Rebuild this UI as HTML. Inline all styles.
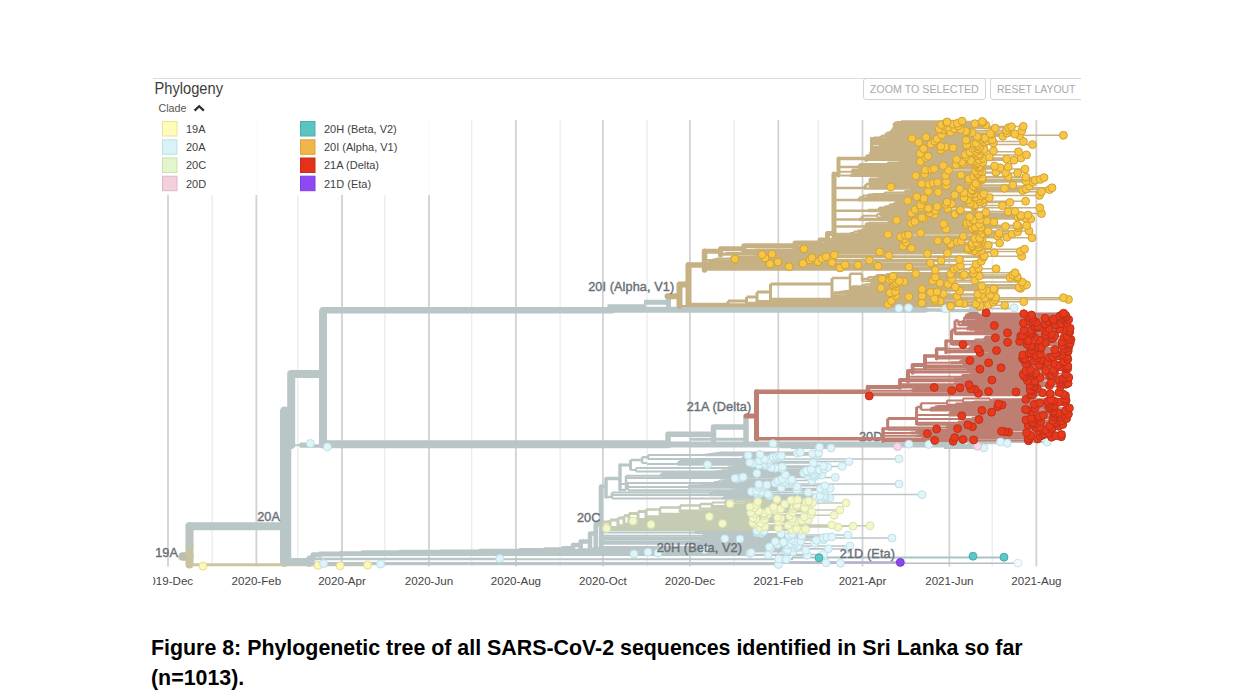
<!DOCTYPE html>
<html lang="en">
<head>
<meta charset="utf-8">
<title>Figure 8: Phylogenetic tree of all SARS-CoV-2 sequences identified in Sri Lanka</title>
<style>
html,body{margin:0;padding:0;background:#fff;}
body{width:1237px;height:700px;position:relative;overflow:hidden;font-family:"Liberation Sans",sans-serif;}
#fig{position:absolute;left:0;top:0;width:1237px;height:700px;display:block;}
#cap{position:absolute;left:150.6px;top:634px;margin:0;width:1100px;font-weight:bold;font-size:21.4px;line-height:29.8px;color:#000;
 transform-origin:0 0;transform:scaleX(0.999);white-space:nowrap;letter-spacing:0;}
</style>
</head>
<body>
<svg id="fig" width="1237" height="700" viewBox="0 0 1237 700" font-family="'Liberation Sans', sans-serif">
<defs><clipPath id="shot"><rect x="153" y="70" width="928" height="530"/></clipPath></defs>
<g clip-path="url(#shot)">
<path d="M153 78.5 H1081" stroke="#dcdcdc" stroke-width="1"/>
<path d="M212.2 120 V566.5 M297.8 120 V566.5 M384.8 120 V566.5 M471.7 120 V566.5 M560.1 120 V566.5 M647.1 120 V566.5 M734.1 120 V566.5 M818.3 120 V566.5 M905.2 120 V566.5 M992.2 120 V566.5" stroke="#ececec" stroke-width="1.3" fill="none"/>
<path d="M168.0 120 V566.5 M256.4 120 V566.5 M342.0 120 V566.5 M429.0 120 V566.5 M515.9 120 V566.5 M602.9 120 V566.5 M689.9 120 V566.5 M778.3 120 V566.5 M862.5 120 V566.5 M949.4 120 V566.5 M1036.4 120 V566.5" stroke="#d2d2d2" stroke-width="1.8" fill="none"/>
<g>
<path d="M284.5 411.0V562.5" stroke="#b9c6c8" stroke-width="9.0" stroke-linecap="round" fill="none"/>
<path d="M182.5 556.5H189.5" stroke="#bcbfad" stroke-width="8.5" stroke-linecap="round" fill="none"/>
<path d="M189.5 545.0V564.5" stroke="#c6c3a0" stroke-width="8.0" stroke-linecap="round" fill="none"/>
<path d="M189.5 526.3V545.0" stroke="#bcc5bd" stroke-width="8.0" stroke-linecap="round" fill="none"/>
<path d="M189.5 526.3H284.5M284.5 411.0H291.0M291.2 374.0V445.0M291.2 374.0H323.0M323.0 311.5V444.5M323.0 444.2H668.0" stroke="#b9c6c8" stroke-width="8.0" stroke-linecap="round" fill="none"/>
<path d="M323.0 310.2H612.0" stroke="#b9c6c8" stroke-width="6.5" stroke-linecap="round" fill="none"/>
<path d="M612.0 309.8H925.0M668.0 444.6H960.0" stroke="#b9c6c8" stroke-width="6.0" stroke-linecap="round" fill="none"/>
<path d="M668.0 434.3V444.0M668.0 434.3H713.5M713.5 427.0V442.0M713.5 427.0H746.0M746.0 416.3V442.0" stroke="#b9c6c8" stroke-width="5.5" stroke-linecap="round" fill="none"/>
<path d="M644.0 302.3H669.0M668.5 297.0V309.0" stroke="#b9c6c8" stroke-width="5.0" stroke-linecap="butt" fill="none"/>
<path d="M284.5 560.3H309.0" stroke="#b9c6c8" stroke-width="4.5" stroke-linecap="round" fill="none"/>
<path d="M607.5 306.0H646.0" stroke="#b9c6c8" stroke-width="3.5" stroke-linecap="butt" fill="none"/>
<path d="M189.5 564.8H367.0" stroke="#cbc69f" stroke-width="3.0" stroke-linecap="butt" fill="none"/>
<path d="M690.0 439.3H745.0" stroke="#b9c6c8" stroke-width="3.0" stroke-linecap="butt" fill="none"/>
<path d="M290.0 445.0V561.5" stroke="#b9c6c8" stroke-width="2.5" stroke-linecap="butt" fill="none"/>
<path d="M291.2 445.2H327.0M300.0 443.4H310.4M300.0 443.4V446.7M300.0 446.7H327.4" stroke="#b9c6c8" stroke-width="2.0" stroke-linecap="butt" fill="none"/>
</g>
<g>
<path d="M286.0 562.7H309.0M309.0 557.9V564.5M309.0 557.9H313.0M313.0 554.7V559.4M313.0 554.7H320.0M320.0 553.9V555.3M320.0 553.9H341.0M341.0 553.4V554.4" stroke="#b9c6c8" stroke-width="5.0" stroke-linecap="round" fill="none"/>
<path d="M341.0 553.4H362.5M362.5 552.6V554.0M362.5 552.6H400.0M400.0 552.1V553.1M400.0 552.1H440.0M440.0 551.7V552.6M440.0 551.7H480.0M480.0 551.1V552.2M480.0 551.1H520.0M520.0 550.2V551.8M520.0 550.2H545.0M545.0 549.6V550.9M545.0 549.6H563.0M563.0 548.3V550.4M563.0 548.3H573.0M573.0 545.0V549.6M573.0 545.0H580.7M580.7 541.4V549.1M580.7 541.4H590.0M590.0 533.6V548.7M590.0 533.6H595.7M595.7 524.3V547.8M595.7 524.3H601.0M601.0 486.4V546.9" stroke="#b9c6c8" stroke-width="4.5" stroke-linecap="round" fill="none"/>
<path d="M601.0 486.4H606.0M606.0 478.6V497.0M606.0 478.6H620.0M620.0 465.0V490.0" stroke="#b9c6c8" stroke-width="3.5" stroke-linecap="round" fill="none"/>
<path d="M601.0 525.0H602.5M602.5 522.0V530.2M602.5 522.0H610.0M610.0 520.0V528.0M610.0 520.0H618.0M618.0 518.0V526.2M618.0 518.0H624.0M624.0 515.7V524.5M624.0 515.7H629.0M629.0 513.5V522.7M629.0 513.5H638.0M638.0 511.4V520.5M638.0 511.4H646.0M646.0 509.5V518.3" stroke="#c4ccb4" stroke-width="3.0" stroke-linecap="butt" fill="none"/>
<path d="M620.0 465.0H630.5M630.5 460.0V470.0" stroke="#b9c6c8" stroke-width="3.0" stroke-linecap="butt" fill="none"/>
<path d="M646.0 509.5H660.0M660.0 507.5V515.7M660.0 507.5H680.0M680.0 505.5V512.6M680.0 505.5H700.0M700.0 504.0V509.1M700.0 504.0H712.0M712.0 502.5V507.8" stroke="#c4ccb4" stroke-width="2.5" stroke-linecap="butt" fill="none"/>
<path d="M606.0 497.0H612.0M612.0 492.5V498.4M620.0 490.0H626.0M626.0 475.8V490.0M630.5 460.0H642.0M642.0 457.3V463.0M642.0 457.3H648.0M648.0 455.0V459.0" stroke="#b9c6c8" stroke-width="2.5" stroke-linecap="butt" fill="none"/>
<path d="M783.0 562.6H900.0" stroke="#b5a8cf" stroke-width="2.5" stroke-linecap="butt" fill="none"/>
<path d="M601.0 546.9H692.7M692.7 546.5V547.4M692.7 546.5H696.3M696.3 546.0V546.9M696.3 546.0H697.1M697.1 545.5V546.5M697.1 545.5H702.8M702.8 544.9V546.0M601.0 543.8H704.3M704.3 543.2V544.3M601.0 541.9H738.7M738.7 541.2V542.5M601.0 535.8H702.6M702.6 535.1V536.4M702.6 535.1H706.7M706.7 534.6V535.7M706.7 534.6H710.2M710.2 534.2V535.0M601.0 532.5H694.9M694.9 531.4V533.3M694.9 531.4H703.1M703.1 530.9V532.0M612.0 498.4H722.1M722.1 497.9V499.0M722.1 497.9H723.4M723.4 497.2V498.5M723.4 497.2H724.4M724.4 496.7V497.6M724.4 496.7H726.9M726.9 496.1V497.2M612.0 495.0H709.2M709.2 494.5V495.4M709.2 494.5H714.9M714.9 493.9V495.0M612.0 492.5H712.6M712.6 491.9V493.0M712.6 491.9H714.5M714.5 491.5V492.4M620.0 484.0H628.0M628.0 484.0V490.2M628.0 490.2H732.2M732.2 489.7V490.6M732.2 489.7H736.2M736.2 489.3V490.2M736.2 489.3H741.7M741.7 488.8V489.7M628.0 487.1H688.0M688.0 486.0V488.0M688.0 486.0H689.5M689.5 485.2V486.6M689.5 485.2H700.4M700.4 484.4V485.8M626.0 482.9H714.1M714.1 482.0V483.6M714.1 482.0H717.9M717.9 481.2V482.7M717.9 481.2H721.8M721.8 480.5V481.8M721.8 480.5H725.8M725.8 480.0V480.9M725.8 480.0H727.2M727.2 479.6V480.5M626.0 478.1H719.5M719.5 477.4V478.7M626.0 475.8H659.9M659.9 474.9V476.5M659.9 474.9H660.8M660.8 473.9V475.6M660.8 473.9H661.7M661.7 473.2V474.5M661.7 473.2H669.2M669.2 472.8V473.7M630.5 470.0H636.0M636.0 468.1V471.6M636.0 471.6H716.2M716.2 471.1V472.1M716.2 471.1H721.2M721.2 470.2V471.7M721.2 470.2H727.8M727.8 469.7V470.8M727.8 469.7H728.9M728.9 469.3V470.1M636.0 468.1H727.8M727.8 467.5V468.6M727.8 467.5H728.7M728.7 466.7V468.2M728.7 466.7H732.9M732.9 466.2V467.3M732.9 466.2H737.6M737.6 465.7V466.6M642.0 463.0H647.0M647.0 463.0V464.0M647.0 464.0H677.7M677.7 462.4V465.1M677.7 462.4H679.0M679.0 461.1V463.3M648.0 459.0H742.8M742.8 457.0V460.2M742.8 458.8H743.1M743.1 458.3V459.4M742.8 457.0H744.5M744.5 456.3V457.6M648.0 455.0H705.0M705.0 454.5V455.4M705.0 454.5H708.5M708.5 454.1V455.0M708.5 454.1H712.5M712.5 453.6V454.5M712.5 453.6H716.1M716.1 453.1V454.1M716.1 453.1H718.7M718.7 452.5V453.6" stroke="#b9c6c8" stroke-width="2.0" stroke-linecap="butt" fill="none"/>
<path d="M660.0 513.8H738.3M738.3 513.3V514.4M680.0 510.4H719.8M719.8 510.0V510.8M712.0 505.9H730.9M730.9 505.3V506.4M712.0 502.5H725.0M725.0 501.0V504.7M725.0 501.0H735.0M735.0 500.3V502.6M735.0 502.6H745.0M745.0 502.0V503.1M745.0 502.0H745.3M745.3 501.4V502.5M735.0 500.3H740.3M740.3 499.8V500.7" stroke="#c4ccb4" stroke-width="2.0" stroke-linecap="butt" fill="none"/>
<path d="M792.0 557.4H1004.0M792.0 557.4V560.0" stroke="#a9c4c4" stroke-width="2.0" stroke-linecap="butt" fill="none"/>
<path d="M309.0 564.5H778.5M309.0 564.1H380.6M309.0 563.6H323.6M309.0 563.2H840.4M309.0 562.7H826.1M313.0 559.4H786.4M313.0 559.0H778.7M313.0 558.5H499.7M320.0 555.3H807.3M320.0 554.8H768.1M341.0 554.4H823.6M362.5 554.0H634.0M362.5 553.5H749.9M400.0 553.1H658.0M440.0 552.6H751.2M480.0 552.2H648.0M520.0 551.8H792.8M520.0 551.3H785.9M545.0 550.9H787.2M563.0 550.4H805.7M563.0 550.0H787.4M573.0 549.6H704.6M580.7 549.1H847.4M590.0 548.7H828.4M590.0 548.2H770.6M595.7 547.8H797.1M692.7 547.4H794.6M696.3 546.9H769.4M697.1 546.5H797.2M702.8 546.0H849.9M702.8 545.6H797.9M702.8 544.9H703.3M703.3 544.7V545.2M703.3 545.2H787.2M703.3 544.7H793.5M704.3 544.3H777.4M704.3 543.8H791.0M704.3 543.2H705.6M705.6 543.0V543.4M705.6 543.4H814.6M705.6 543.0H783.7M738.7 542.5H795.1M738.7 542.1H783.5M738.7 541.2H740.7M740.7 540.8V541.6M740.7 541.6H775.3M740.7 541.2H800.6M740.7 540.8H793.9M601.0 539.9H700.2M700.2 539.4V540.3M700.2 540.3H816.4M700.2 539.9H823.5M700.2 539.4H791.4M601.0 538.6H675.8M675.8 538.1V539.0M675.8 539.0H739.9M675.8 538.6H724.8M675.8 538.1H892.0M601.0 537.2H710.3M710.3 536.8V537.7M710.3 537.7H823.3M710.3 537.2H826.8M710.3 536.8H831.9M702.6 536.4H789.0M706.7 535.7H712.0M712.0 535.5V535.9M712.0 535.9H801.7M712.0 535.5H789.2M710.2 535.0H848.0M710.2 534.2H712.1M712.1 533.7V534.6M712.1 534.6H792.8M712.1 534.2H792.1M712.1 533.7H781.1M694.9 533.3H761.2M694.9 532.8H757.1M694.9 532.4H762.2M703.1 532.0H757.7M703.1 531.5H761.2M703.1 530.9H703.8M703.8 530.6V531.1M703.8 531.1H764.0M703.8 530.6H756.8M722.1 499.0H820.9M723.4 498.5H827.6M723.4 498.1H829.8M724.4 497.6H825.4M726.9 497.2H816.0M726.9 496.8H823.5M726.9 496.1H734.6M734.6 495.9V496.3M734.6 496.3H823.6M734.6 495.9H820.3M709.2 495.4H769.3M714.9 495.0H757.7M714.9 494.6H922.0M714.9 493.9H716.7M716.7 493.7V494.1M716.7 494.1H767.9M716.7 493.7H759.2M712.6 493.0H713.3M713.3 492.8V493.2M713.3 493.2H757.1M713.3 492.8H760.6M714.5 492.4H808.3M714.5 491.5H716.0M716.0 491.0V491.9M716.0 491.9H760.8M716.0 491.5H751.4M716.0 491.0H756.7M732.2 490.6H824.5M736.2 490.2H797.7M741.7 489.7H796.8M741.7 488.8H743.5M743.5 488.4V489.3M743.5 489.3H823.1M743.5 488.8H820.3M743.5 488.4H830.2M688.0 488.0H781.3M688.0 487.5H759.0M688.0 487.1H764.5M689.5 486.6H796.9M689.5 486.2H765.6M700.4 485.8H824.9M700.4 485.3H759.6M700.4 484.4H702.2M702.2 484.0V484.9M702.2 484.9H766.9M702.2 484.4H758.7M702.2 484.0H899.0M714.1 483.6H787.1M714.1 483.1H775.3M717.9 482.7H791.3M717.9 482.2H782.8M721.8 481.8H785.3M721.8 481.4H791.0M725.8 480.9H777.9M727.2 480.5H811.8M727.2 479.6H732.4M732.4 479.2V480.0M732.4 480.0H788.4M732.4 479.6H791.8M732.4 479.2H782.2M719.5 478.7H736.7M719.5 478.3H735.0M719.5 477.4H720.9M720.9 477.0V477.8M720.9 477.8H741.7M720.9 477.4H835.3M720.9 477.0H743.2M659.9 476.5H814.8M659.9 476.1H808.1M660.8 475.6H813.4M660.8 475.2H821.6M661.7 474.5H664.4M664.4 474.3V474.8M664.4 474.8H785.4M664.4 474.3H816.9M669.2 473.7H676.4M676.4 473.4V473.9M676.4 473.9H814.3M676.4 473.4H756.9M669.2 472.8H670.9M670.9 472.6V473.0M670.9 473.0H803.6M670.9 472.6H807.5M716.2 472.1H809.7M721.2 471.7H816.4M721.2 471.2H808.4M727.8 470.8H806.4M728.9 470.1H730.6M730.6 469.9V470.4M730.6 470.4H818.1M730.6 469.9H819.5M728.9 469.3H730.3M730.3 469.0V469.5M730.3 469.5H811.3M730.3 469.0H824.5M727.8 468.6H782.2M728.7 468.2H775.4M728.7 467.7H771.2M732.9 467.3H827.9M737.6 466.6H738.7M738.7 466.4V466.8M738.7 466.8H782.4M738.7 466.4H842.1M737.6 465.7H742.3M742.3 465.5V466.0M742.3 466.0H823.4M742.3 465.5H765.6M677.7 465.1H759.0M677.7 464.6H707.6M677.7 464.2H767.1M677.7 463.8H764.9M679.0 463.3H752.6M679.0 462.9H813.4M679.0 462.4H749.7M679.0 462.0H768.7M679.0 461.1H679.8M679.8 460.7V461.6M679.8 461.6H849.0M679.8 461.1H760.2M679.8 460.7H759.3M742.8 460.2H766.4M742.8 459.8H768.4M743.1 459.4H764.5M743.1 458.9H899.0M743.1 458.3H743.9M743.9 458.0V458.5M743.9 458.5H774.4M743.9 458.0H778.0M744.5 457.6H774.0M744.5 457.2H773.0M744.5 456.3H744.8M744.8 455.8V456.7M744.8 456.7H776.5M744.8 456.3H779.5M744.8 455.8H781.4M705.0 455.4H748.2M708.5 455.0H817.5M712.5 454.5H760.0M716.1 454.1H815.6M718.7 453.6H812.5M718.7 453.2H797.5M718.7 452.5H719.2M719.2 452.3V452.8M719.2 452.8H818.7M719.2 452.3H800.3" stroke="#b9c6c8" stroke-width="1.5" stroke-linecap="butt" fill="none"/>
<path d="M602.5 530.2H800.7M602.5 529.8H791.7M602.5 529.3H805.6M602.5 528.9H796.6M602.5 528.4H606.6M610.0 528.0H778.3M610.0 527.6H759.7M610.0 527.1H838.0M610.0 526.7H764.9M618.0 526.2H853.0M618.0 525.8H870.0M618.0 525.4H788.3M618.0 524.9H831.8M624.0 524.5H651.0M624.0 524.0H754.1M624.0 523.6H722.5M624.0 523.2H760.9M629.0 522.7H752.7M629.0 522.3H795.0M629.0 521.8H778.6M629.0 521.4H792.2M629.0 521.0H633.0M638.0 520.5H801.9M638.0 520.1H808.2M638.0 519.6H764.7M638.0 519.2H755.7M638.0 518.8H792.3M646.0 518.3H780.8M646.0 517.9H753.0M646.0 517.4H777.6M646.0 517.0H804.3M646.0 516.6H709.3M646.0 516.1H789.7M660.0 515.7H764.5M660.0 515.2H834.1M660.0 514.8H811.1M738.3 514.4H767.6M738.3 513.9H764.4M738.3 513.3H740.5M740.5 513.0V513.5M740.5 513.5H754.3M740.5 513.0H764.6M680.0 512.6H750.8M680.0 512.2H792.7M680.0 511.7H812.0M680.0 511.3H758.6M719.8 510.8H768.6M719.8 510.0H721.8M721.8 509.5V510.4M721.8 510.4H779.2M721.8 510.0H840.0M721.8 509.5H774.4M700.0 509.1H780.5M700.0 508.6H793.6M700.0 508.2H804.7M712.0 507.8H754.5M712.0 507.3H773.6M712.0 506.9H750.0M730.9 506.4H794.4M730.9 506.0H796.5M730.9 505.3H731.9M731.9 505.1V505.6M731.9 505.6H796.5M731.9 505.1H797.1M725.0 504.7H756.6M725.0 504.2H784.8M725.0 503.8H730.0M745.0 503.1H745.3M745.3 502.9V503.4M745.3 503.4H810.7M745.3 502.9H846.0M745.3 502.5H812.7M745.3 502.0H806.2M745.3 501.4H745.6M745.6 501.2V501.6M745.6 501.6H757.8M745.6 501.2H808.8M740.3 500.7H793.7M740.3 499.8H741.3M741.3 499.4V500.3M741.3 500.3H790.9M741.3 499.8H797.7M741.3 499.4H776.9" stroke="#c4ccb4" stroke-width="1.5" stroke-linecap="butt" fill="none"/>
<path d="M800.0 563.3H1018.0" stroke="#b4bfc1" stroke-width="1.5" stroke-linecap="butt" fill="none"/>
</g>
<g>
<path d="M925.0 310.3H990.0M955.0 445.6H983.0" stroke="#b9c6c8" stroke-width="3.0" stroke-linecap="butt" fill="none"/>
<path d="M854.0 308.9H899.0M863.5 308.4H908.5M900.4 309.3H945.4M936.9 310.6H981.9M941.1 311.3H986.1M969.1 308.4H1014.1M733.0 443.6H773.0M779.5 447.2H819.5M791.0 448.0H831.0M868.9 444.2H908.9M888.9 444.5H928.9M943.9 447.9H983.9M960.5 442.0H1000.5M967.3 443.3H1007.3M1007.2 442.0H1047.2" stroke="#b9c6c8" stroke-width="2.0" stroke-linecap="butt" fill="none"/>
</g>
<text x="882.5" y="441.2" font-size="12.7" fill="#6b7078" stroke="#6b7078" stroke-width="0.4" text-anchor="end" letter-spacing="0.1">20D</text>
<g>
<path d="M667.5 296.3H679.5M679.5 284.5V306.1M679.5 284.5H688.5M688.5 265.0V304.2" stroke="#c6b184" stroke-width="6.0" stroke-linecap="round" fill="none"/>
<path d="M688.5 265.0H704.5M704.5 251.2V270.1" stroke="#c6b184" stroke-width="5.5" stroke-linecap="round" fill="none"/>
<path d="M704.5 251.2H720.5M720.5 248.7V255.0M720.5 248.7H743.8M743.8 245.8V252.3M743.8 245.8H795.0M795.0 243.0V248.8M795.0 243.0H820.0M820.0 240.0V245.2M820.0 240.0H827.5M827.5 233.5V242.1M827.5 233.5H834.0M834.0 174.0V235.9" stroke="#c6b184" stroke-width="5.0" stroke-linecap="round" fill="none"/>
<path d="M834.0 174.0H838.5M838.5 158.5V175.5" stroke="#c6b184" stroke-width="4.0" stroke-linecap="round" fill="none"/>
<path d="M838.5 158.5H866.0M866.0 157.8V160.2M866.0 157.8H867.3M867.3 155.9V159.8M867.3 155.9H870.9M870.9 152.4V159.3M870.9 152.4H871.7M871.7 138.5V158.9" stroke="#c6b184" stroke-width="3.5" stroke-linecap="round" fill="none"/>
<path d="M688.5 304.2H728.0M728.0 301.0V304.8M728.0 301.0H746.5M746.5 297.0V303.5M746.5 297.0H757.0M757.0 292.0V302.2M757.0 292.0H770.5M770.5 284.0V300.4M770.5 284.0H832.0M832.0 278.0V298.1M871.7 138.5H874.0M874.0 137.7V139.3" stroke="#c6b184" stroke-width="3.0" stroke-linecap="butt" fill="none"/>
<path d="M832.0 278.0H850.0M850.0 273.8V290.1M850.0 273.8H862.0M862.0 273.8V281.2M862.0 279.1H868.3M868.3 277.0V280.8M834.0 226.5H866.0M866.0 223.3V228.3M834.0 219.6H859.0M859.0 218.9V220.3M859.0 218.9H860.4M860.4 218.0V219.9M860.4 218.0H862.5M862.5 215.7V219.4M834.0 210.7H868.0M868.0 209.9V211.4M868.0 209.9H878.4M878.4 208.4V211.0M878.4 208.4H879.3M879.3 207.7V209.2M879.3 207.7H884.8M884.8 206.2V208.7M834.0 200.0H858.0M858.0 199.3V200.7M858.0 199.3H859.3M859.3 197.5V200.3M859.3 197.5H863.0M863.0 195.6V198.9M834.0 188.0H864.0M864.0 186.2V189.1M864.0 186.2H865.9M865.9 184.1V188.3M865.9 184.1H869.8M869.8 178.5V187.8M838.5 167.1H858.0M858.0 165.5V168.2M874.0 137.7H880.9M880.9 136.1V138.9M880.9 136.1H885.6M885.6 133.6V137.5M885.6 133.6H887.3M887.3 132.8V134.4M887.3 132.8H890.4M890.4 130.9V134.0M890.4 130.9H892.3M892.3 128.7V133.1M892.3 128.7H894.0M894.0 123.1V132.6" stroke="#c6b184" stroke-width="2.5" stroke-linecap="butt" fill="none"/>
<path d="M679.5 306.1H696.3M696.3 305.5V306.6M832.0 295.4H846.3M846.3 294.8V295.9M832.0 293.3H834.0M834.0 292.3V294.1M834.0 292.3H838.8M838.8 291.9V292.8M838.8 291.9H840.7M840.7 291.4V292.4M840.7 291.4H844.0M844.0 290.8V291.9M850.0 286.9H851.9M851.9 286.3V287.5M851.9 286.3H861.3M861.3 285.2V287.0M861.3 285.2H864.4M864.4 284.3V286.1M864.4 284.3H870.6M870.6 282.6V285.7M870.6 282.6H875.1M875.1 282.1V283.0M868.3 279.6H871.7M871.7 279.0V280.1M871.7 279.0H873.0M873.0 278.6V279.5M868.3 277.0H873.7M873.7 276.4V277.7M873.7 276.4H876.2M876.2 275.1V277.2M876.2 275.1H886.4M886.4 274.0V275.9M886.4 274.0H892.8M892.8 273.2V274.6M704.5 263.1H705.8M705.8 262.4V263.7M705.8 262.4H708.1M708.1 261.7V263.0M704.5 260.1H713.2M713.2 259.2V260.8M713.2 259.2H716.5M716.5 258.5V259.9M716.5 258.5H731.1M731.1 257.1V259.5M731.1 257.1H755.2M755.2 255.9V258.1M743.8 250.0H753.5M753.5 249.4V250.6M795.0 246.7H796.1M796.1 245.9V247.4M820.0 243.4H823.3M823.3 243.0V243.9M827.5 238.8H834.5M834.5 238.2V239.4M834.5 238.2H836.6M836.6 237.1V239.0M836.6 237.1H841.3M841.3 236.5V237.7M834.0 233.7H850.0M850.0 232.9V234.5M850.0 232.9H853.8M853.8 231.5V234.1M853.8 231.5H857.5M857.5 230.5V232.3M857.5 230.5H861.1M861.1 229.9V231.0M861.1 229.9H862.0M862.0 229.2V230.5M866.0 225.2H874.2M874.2 224.7V225.6M866.0 223.3H868.7M868.7 222.7V223.9M868.7 222.7H888.0M888.0 221.8V223.4M888.0 221.8H888.8M888.8 221.0V222.5M862.5 215.7H877.2M877.2 214.0V217.4M877.2 217.4H880.7M880.7 216.5V218.1M880.7 216.5H884.4M884.4 216.1V217.0M877.2 214.0H879.4M879.4 213.2V214.9M879.4 214.9H881.3M881.3 214.3V215.4M879.4 213.2H879.9M879.9 212.7V213.6M879.9 212.7H888.2M888.2 212.3V213.2M884.8 206.2H889.5M889.5 204.3V207.4M889.5 204.3H893.9M893.9 202.9V205.2M893.9 202.9H895.5M895.5 201.6V203.8M863.0 198.0H865.7M865.7 197.6V198.5M863.0 195.6H867.7M867.7 194.4V196.7M867.7 194.4H872.5M872.5 193.9V194.9M872.5 193.9H883.5M883.5 193.3V194.5M883.5 193.3H884.7M884.7 192.5V194.0M884.7 192.5H904.6M904.6 191.0V193.6M904.6 191.0H910.5M910.5 190.0V191.8M869.8 180.5H870.9M870.9 179.8V181.1M869.8 178.5H878.0M878.0 178.0V178.9M878.0 178.0H887.9M887.9 177.6V178.5M887.9 177.6H891.4M891.4 177.1V178.0M838.5 175.5H850.0M850.0 174.5V176.2M838.5 171.7H852.0M852.0 169.5V173.6M852.0 169.5H867.6M867.6 168.9V170.0M858.0 165.5H859.7M859.7 164.0V166.5M859.7 164.0H887.1M887.1 163.2V164.7M887.1 163.2H887.8M887.8 162.4V163.8M887.8 162.4H898.5M898.5 161.9V162.9M898.5 161.9H899.7M899.7 161.3V162.4M899.7 161.3H900.6M900.6 160.9V161.8M871.7 147.3H874.2M874.2 146.8V147.8M874.2 146.8H878.4M878.4 146.3V147.3M878.4 146.3H879.3M879.3 145.5V146.9M871.7 143.6H873.0M873.0 141.9V144.6M873.0 141.9H873.8M873.8 140.6V142.9M873.8 140.6H874.5M874.5 140.2V141.1M894.0 123.1H894.6M894.6 122.4V123.7M894.6 122.4H896.7M896.7 121.9V122.8M896.7 121.9H900.8M900.8 121.3V122.4" stroke="#c6b184" stroke-width="2.0" stroke-linecap="butt" fill="none"/>
<path d="M696.3 306.6H979.5M696.3 306.2H950.6M696.3 305.5H770.1M770.1 305.3V305.7M770.1 305.7H980.1M770.1 305.3H1004.7M728.0 304.8H988.4M728.0 304.4H888.1M728.0 303.9H976.0M746.5 303.5H963.7M746.5 303.0H921.8M746.5 302.6H959.2M757.0 302.2H993.3M757.0 301.7H1023.7M757.0 301.3H940.1M757.0 300.8H891.4M770.5 300.4H935.2M770.5 299.9H995.2M770.5 299.5H1068.5M770.5 299.0H980.2M770.5 298.6H934.4M832.0 298.1H985.0M832.0 297.7H1063.4M832.0 297.3H995.8M832.0 296.8H908.9M832.0 296.4H957.1M846.3 295.9H922.2M846.3 295.5H896.0M846.3 294.8H852.6M852.6 294.6V295.0M852.6 295.0H990.2M852.6 294.6H981.6M834.0 294.1H977.7M834.0 293.5H836.9M836.9 293.3V293.7M836.9 293.7H943.4M836.9 293.3H892.6M838.8 292.8H890.0M840.7 292.4H930.6M844.0 291.9H937.1M844.0 291.5H895.4M844.0 290.8H850.6M850.6 290.6V291.0M850.6 291.0H959.6M850.6 290.6H986.5M850.0 290.1H994.3M850.0 289.7H982.6M850.0 289.2H922.0M850.0 288.8H993.7M850.0 288.4H1020.5M850.0 287.9H881.0M851.9 287.5H1019.0M861.3 287.0H955.3M861.3 286.6H895.7M864.4 286.1H981.7M870.6 285.7H1023.7M870.6 285.2H893.4M870.6 284.8H1026.5M870.6 284.4H948.0M870.6 283.9H895.6M870.6 283.5H894.2M875.1 283.0H939.8M875.1 282.1H876.4M876.4 281.7V282.6M876.4 282.6H896.3M876.4 282.1H1022.1M876.4 281.7H904.0M862.0 281.2H899.4M868.3 280.8H932.7M871.7 280.1H874.4M874.4 279.9V280.3M874.4 280.3H974.7M874.4 279.9H889.5M873.0 279.5H951.8M873.0 278.6H875.6M875.6 278.1V279.0M875.6 279.0H882.0M875.6 278.6H891.9M875.6 278.1H1017.1M873.7 277.7H1010.2M876.2 277.2H935.3M876.2 276.8H1017.2M876.2 276.3H892.9M886.4 275.9H979.2M886.4 275.5H962.8M886.4 275.0H1012.8M892.8 274.6H964.3M892.8 274.1H950.6M892.8 273.2H893.6M893.6 272.8V273.7M893.6 273.7H915.8M893.6 273.2H973.4M893.6 272.8H1015.0M704.5 270.1H935.3M704.5 269.7H973.4M704.5 269.2H954.1M704.5 268.8H996.1M704.5 268.4H978.4M704.5 267.9H840.0M704.5 267.5H957.5M704.5 267.0H909.0M704.5 266.6H789.0M704.5 266.1H878.0M704.5 265.7H960.4M704.5 265.2H858.0M704.5 264.6H713.4M713.4 264.4V264.8M713.4 264.8H845.0M713.4 264.4H976.1M705.8 263.7H715.4M715.4 263.5V263.9M715.4 263.9H770.0M715.4 263.5H803.0M708.1 263.0H930.3M708.1 262.6H832.0M708.1 261.7H714.1M714.1 261.2V262.1M714.1 262.1H778.0M714.1 261.7H818.0M714.1 261.2H981.3M713.2 260.8H941.1M713.2 260.3H869.4M716.5 259.9H810.2M731.1 259.5H959.5M731.1 259.0H735.0M731.1 258.6H822.0M755.2 258.1H765.0M755.2 257.7H812.0M755.2 257.2H983.5M755.2 256.8H826.0M755.2 255.9H762.0M762.0 255.5V256.3M762.0 256.3H1021.8M762.0 255.9H984.3M762.0 255.5H888.8M720.5 255.0H834.3M720.5 254.6H762.0M720.5 254.1H772.0M720.5 253.2H725.9M725.9 252.8V253.7M725.9 253.7H927.4M725.9 253.2H947.4M725.9 252.8H994.3M743.8 252.3H976.7M743.8 251.9H879.6M743.8 251.4H1020.3M743.8 251.0H973.5M753.5 250.6H981.3M753.5 250.1H969.2M753.5 249.4H755.7M755.7 249.2V249.7M755.7 249.7H967.9M755.7 249.2H1024.5M795.0 248.8H804.0M795.0 248.3H911.4M795.0 247.9H968.3M796.1 247.4H979.7M796.1 247.0H978.3M796.1 246.6H972.4M796.1 245.9H800.6M800.6 245.7V246.1M800.6 246.1H903.1M800.6 245.7H972.0M820.0 245.2H988.3M820.0 244.8H950.5M820.0 244.3H977.6M823.3 243.9H950.6M823.3 243.0H826.1M826.1 242.5V243.4M826.1 243.4H972.2M826.1 243.0H999.6M826.1 242.5H976.6M827.5 242.1H905.7M827.5 241.7H957.3M827.5 241.2H961.2M827.5 240.8H937.9M827.5 240.3H947.1M827.5 239.9H982.2M834.5 239.4H979.9M836.6 239.0H904.5M836.6 238.5H974.7M836.6 238.1H979.6M841.3 237.7H1032.0M841.3 237.2H1006.9M841.3 236.5H850.0M850.0 236.3V236.8M850.0 236.8H900.4M850.0 236.3H963.3M834.0 235.9H997.4M834.0 235.4H905.3M834.0 235.0H908.4M850.0 234.5H887.9M853.8 234.1H1012.0M853.8 233.2H861.6M861.6 232.8V233.6M861.6 233.6H982.3M861.6 233.2H999.1M861.6 232.8H920.6M857.5 232.3H987.6M857.5 231.9H1017.6M857.5 231.4H988.2M861.1 231.0H1029.0M862.0 230.5H979.4M862.0 230.1H975.3M862.0 229.2H863.1M863.1 228.8V229.6M863.1 229.6H973.9M863.1 229.2H946.1M863.1 228.8H972.8M866.0 228.3H972.0M866.0 227.9H1018.6M866.0 227.4H980.9M866.0 227.0H975.0M866.0 226.5H1005.5M866.0 226.1H1018.3M874.2 225.6H1026.7M874.2 224.7H883.5M883.5 224.3V225.2M883.5 225.2H1017.0M883.5 224.7H966.2M883.5 224.3H979.4M868.7 223.9H943.6M888.0 223.4H911.3M888.0 223.0H966.9M888.8 222.5H970.1M888.8 222.1H994.0M888.8 221.6H914.8M888.8 221.0H892.8M892.8 220.7V221.2M892.8 221.2H986.8M892.8 220.7H972.9M859.0 220.3H896.7M860.4 219.9H974.2M862.5 219.4H980.3M862.5 218.7H864.4M864.4 218.5V219.0M864.4 219.0H1030.7M864.4 218.5H923.8M880.7 218.1H1025.1M880.7 217.6H921.8M884.4 217.0H886.4M886.4 216.7V217.2M886.4 217.2H1017.9M886.4 216.7H969.7M884.4 216.1H887.0M887.0 215.8V216.3M887.0 216.3H1020.7M887.0 215.8H979.2M881.3 215.4H1021.0M881.3 215.0H1028.0M881.3 214.3H904.2M904.2 214.1V214.5M904.2 214.5H934.5M904.2 214.1H955.0M879.9 213.6H1041.5M888.2 213.2H911.5M888.2 212.3H894.4M894.4 211.8V212.7M894.4 212.7H929.8M894.4 212.3H985.9M894.4 211.8H1008.2M868.0 211.4H1015.0M878.4 211.0H959.9M878.4 210.5H935.3M878.4 209.8H881.9M881.9 209.6V210.1M881.9 210.1H960.4M881.9 209.6H915.0M879.3 209.2H928.6M884.8 208.7H947.8M884.8 208.1H885.7M885.7 207.8V208.3M885.7 208.3H928.2M885.7 207.8H1039.8M889.5 207.4H920.8M889.5 206.9H974.4M889.5 206.5H937.1M889.5 205.8H892.5M892.5 205.6V206.1M892.5 206.1H974.3M892.5 205.6H1002.4M893.9 205.2H920.7M893.9 204.7H975.1M893.9 204.3H946.0M895.5 203.8H951.6M895.5 203.4H970.2M895.5 202.9H983.1M895.5 202.5H1009.9M895.5 201.6H903.1M903.1 201.2V202.1M903.1 202.1H947.0M903.1 201.6H980.0M903.1 201.2H1025.6M858.0 200.7H907.7M859.3 200.3H923.4M859.3 199.8H968.1M859.3 199.4H983.4M863.0 198.9H978.4M865.7 198.5H923.9M865.7 197.6H866.3M866.3 197.2V198.0M866.3 198.0H964.1M866.3 197.6H989.3M866.3 197.2H975.6M867.7 196.7H916.8M867.7 195.8H870.1M870.1 195.4V196.3M870.1 196.3H982.4M870.1 195.8H981.2M870.1 195.4H1039.5M872.5 194.9H954.7M883.5 194.5H972.0M884.7 194.0H983.6M904.6 193.6H974.1M904.6 193.2H970.2M904.6 192.7H964.0M904.6 192.3H938.2M910.5 191.8H1041.5M910.5 191.4H928.3M910.5 190.9H972.7M910.5 190.0H911.7M911.7 189.6V190.5M911.7 190.5H1022.6M911.7 190.0H971.9M911.7 189.6H1049.5M864.0 189.1H1026.1M864.0 188.7H959.7M865.9 188.3H1004.5M869.8 187.8H1052.0M869.8 187.4H975.0M869.8 186.9H890.8M869.8 186.5H973.9M869.8 186.0H1029.5M869.8 185.6H946.4M869.8 185.1H1012.9M869.8 184.7H977.4M869.8 184.3H928.7M869.8 183.8H921.6M869.8 183.4H975.8M869.8 182.9H933.2M869.8 182.5H937.4M869.8 182.0H1032.5M869.8 181.6H946.4M870.9 181.1H1026.0M870.9 180.7H968.7M870.9 179.8H876.1M876.1 179.4V180.2M876.1 180.2H1035.1M876.1 179.8H982.2M876.1 179.4H1040.3M878.0 178.9H968.7M887.9 178.5H980.6M891.4 178.0H982.1M891.4 177.1H892.1M892.1 176.7V177.6M892.1 177.6H1044.0M892.1 177.1H1025.9M892.1 176.7H1008.3M850.0 176.2H973.5M850.0 175.8H915.8M850.0 175.4H945.7M850.0 174.5H853.0M853.0 174.0V174.9M853.0 174.9H960.9M853.0 174.5H977.3M853.0 174.0H924.6M852.0 173.6H978.0M852.0 173.1H1017.6M852.0 172.7H1005.6M852.0 172.2H995.9M852.0 171.8H982.1M852.0 171.3H979.2M852.0 170.9H975.4M852.0 170.5H948.5M867.6 170.0H925.3M867.6 169.6H931.7M867.6 168.9H868.4M868.4 168.7V169.1M868.4 169.1H1025.0M868.4 168.7H934.2M858.0 168.2H978.4M858.0 167.8H1000.1M858.0 167.3H979.8M858.0 166.9H1008.2M859.7 166.5H978.9M859.7 166.0H994.6M859.7 165.3H869.3M869.3 165.1V165.6M869.3 165.6H943.3M869.3 165.1H975.5M887.1 164.7H956.0M887.1 164.2H975.5M887.8 163.8H963.3M887.8 163.3H977.1M898.5 162.9H977.4M899.7 162.4H983.0M900.6 161.8H902.4M902.4 161.6V162.0M902.4 162.0H962.1M902.4 161.6H920.3M900.6 160.9H902.5M902.5 160.7V161.1M902.5 161.1H974.5M902.5 160.7H970.8M866.0 160.2H1013.9M867.3 159.8H979.2M870.9 159.3H956.6M871.7 158.9H1006.6M871.7 158.4H983.3M871.7 158.0H1021.0M871.7 157.6H925.8M871.7 157.1H989.3M871.7 156.7H965.7M871.7 156.2H928.0M871.7 155.8H979.3M871.7 155.3H976.9M871.7 154.9H1026.5M871.7 154.4H965.3M871.7 154.0H979.4M871.7 153.5H920.2M871.7 153.1H973.5M871.7 152.7H972.5M871.7 152.2H969.9M871.7 151.8H1018.5M871.7 151.3H976.3M871.7 150.9H993.5M871.7 150.4H981.2M871.7 150.0H940.8M871.7 149.5H984.1M871.7 149.1H978.1M871.7 148.7H923.5M871.7 148.2H972.7M874.2 147.8H953.1M878.4 147.3H979.6M879.3 146.9H945.2M879.3 146.4H940.9M879.3 145.5H880.7M880.7 145.1V146.0M880.7 146.0H974.3M880.7 145.5H977.7M880.7 145.1H966.8M873.0 144.6H1032.5M873.0 144.2H930.8M873.0 143.8H974.1M873.0 143.3H976.3M873.8 142.9H993.4M873.8 142.4H918.6M873.8 142.0H985.0M873.8 141.5H1023.5M874.5 141.1H934.8M874.5 140.2H875.7M875.7 139.8V140.6M875.7 140.6H987.1M875.7 140.2H966.1M875.7 139.8H992.1M874.0 139.3H981.3M880.9 138.9H937.0M880.9 138.2H882.4M882.4 138.0V138.4M882.4 138.4H912.0M882.4 138.0H984.7M885.6 137.5H978.1M885.6 137.1H926.0M885.6 136.6H977.3M885.6 136.2H1002.8M885.6 135.3H887.3M887.3 134.9V135.7M887.3 135.7H1019.5M887.3 135.3H1063.4M887.3 134.9H941.6M887.3 134.4H991.6M890.4 134.0H1014.8M890.4 133.5H990.3M892.3 133.1H1006.9M894.0 132.6H972.1M894.0 132.2H950.6M894.0 131.7H967.0M894.0 131.3H965.7M894.0 130.9H1021.7M894.0 130.4H1006.5M894.0 130.0H942.5M894.0 129.5H960.5M894.0 129.1H939.2M894.0 128.6H954.3M894.0 128.2H995.3M894.0 127.7H1008.6M894.0 127.3H947.5M894.0 126.8H1011.5M894.0 126.4H1023.2M894.0 125.7H901.4M901.4 125.5V126.0M901.4 126.0H958.0M901.4 125.5H943.2M894.0 124.6H900.7M900.7 124.2V125.1M900.7 125.1H985.8M900.7 124.6H941.4M900.7 124.2H952.8M894.6 123.7H974.9M894.6 123.3H957.4M896.7 122.8H946.4M900.8 122.4H983.0M900.8 122.0H947.1M900.8 121.3H901.9M901.9 121.1V121.5M901.9 121.5H982.2M901.9 121.1H962.0" stroke="#c6b184" stroke-width="1.5" stroke-linecap="butt" fill="none"/>
</g>
<g>
<path d="M746.0 416.0H756.5M756.5 391.7V438.8" stroke="#bf7e72" stroke-width="5.0" stroke-linecap="round" fill="none"/>
<path d="M756.5 391.7H868.0M868.0 387.0V396.0" stroke="#bf7e72" stroke-width="4.5" stroke-linecap="round" fill="none"/>
<path d="M868.0 387.0H900.0M900.0 380.0V387.8M900.0 380.0H908.0M908.0 371.0V381.5M908.0 371.0H912.6M912.6 365.0V372.8M912.6 365.0H925.0M925.0 356.0V367.4" stroke="#bf7e72" stroke-width="4.0" stroke-linecap="round" fill="none"/>
<path d="M756.5 438.8H883.0M883.0 428.7V441.3M925.0 356.0H936.6M936.6 349.0V358.7M936.6 349.0H946.0M946.0 341.0V352.4" stroke="#bf7e72" stroke-width="3.5" stroke-linecap="round" fill="none"/>
<path d="M883.0 428.7H887.7M887.7 418.5V429.9M887.7 418.5H916.6M916.6 407.0V424.9M946.0 341.0H951.5M951.5 330.0V345.1M951.5 330.0H955.0M955.0 320.6V334.6" stroke="#bf7e72" stroke-width="3.0" stroke-linecap="butt" fill="none"/>
<path d="M916.6 407.0H921.0M921.0 403.2V409.8M955.0 320.6H958.5M958.5 320.6V325.5M958.5 322.1H963.2M963.2 320.0V324.1M963.2 320.0H964.4M964.4 317.0V323.0" stroke="#bf7e72" stroke-width="2.5" stroke-linecap="butt" fill="none"/>
<path d="M883.0 438.5H921.5M921.5 438.0V439.0M921.5 438.0H922.9M922.9 437.2V438.6M883.0 435.8H916.0M916.0 435.4V436.3M916.0 435.4H918.9M918.9 434.9V435.8M918.9 434.9H920.0M920.0 434.5V435.4M883.0 433.1H910.5M910.5 432.6V433.6M910.5 432.6H915.4M915.4 432.0V433.1M915.4 432.0H916.1M916.1 431.2V432.7M916.1 431.2H916.8M916.8 430.6V431.7M887.7 427.5H946.5M946.5 426.1V428.6M946.5 426.1H947.8M947.8 425.6V426.5M916.6 422.7H958.0M958.0 421.4V423.6M958.0 421.4H962.3M962.3 420.8V422.0M916.6 419.0H972.0M972.0 417.7V419.9M972.0 417.7H975.0M975.0 417.1V418.3M975.0 417.1H975.9M975.9 416.5V417.6M916.6 414.9H949.0M949.0 413.5V415.8M949.0 413.5H950.0M950.0 412.6V414.5M950.0 412.6H950.7M950.7 412.0V413.3M950.7 412.0H954.5M954.5 411.5V412.4M921.0 409.8H930.0M930.0 408.8V410.8M930.0 408.8H930.8M930.8 407.7V409.8M930.8 409.8H938.0M938.0 409.2V410.4M930.8 407.7H934.7M934.7 406.6V408.5M934.7 406.6H936.2M936.2 406.0V407.2M921.0 403.2H947.0M947.0 400.4V404.8M947.0 404.8H955.0M955.0 404.2V405.4M955.0 404.2H955.9M955.9 403.3V404.9M947.0 400.4H963.0M963.0 398.6V402.2M963.0 402.2H972.0M972.0 401.7V402.6M963.0 398.6H990.0M990.0 398.6V400.8M990.0 399.9H992.2M992.2 399.4V400.4M868.0 393.3H952.0M952.0 392.6V394.0M952.0 392.6H952.7M952.7 392.2V393.1M868.0 390.7H911.8M911.8 389.6V391.5M911.8 389.6H912.7M912.7 389.1V390.1M912.7 389.1H913.5M913.5 388.5V389.7M900.0 386.3H973.3M973.3 385.6V386.9M900.0 384.2H953.4M953.4 383.7V384.7M953.4 383.7H954.3M954.3 383.3V384.2M954.3 383.3H962.1M962.1 382.8V383.7M962.1 382.8H968.2M968.2 382.2V383.3M908.0 379.3H953.5M953.5 378.7V379.9M908.0 376.7H962.2M962.2 374.9V377.8M962.2 374.9H969.5M969.5 374.2V375.6M969.5 374.2H973.1M973.1 373.7V374.6M912.6 371.4H967.3M967.3 370.8V371.9M912.6 369.3H966.3M966.3 368.7V369.9M966.3 368.7H977.7M977.7 368.3V369.2M925.0 365.4H962.7M962.7 364.6V366.0M962.7 364.6H964.7M964.7 364.0V365.1M925.0 362.7H950.9M950.9 362.2V363.3M950.9 362.2H958.9M958.9 361.6V362.8M958.9 361.6H960.2M960.2 360.7V362.4M960.2 360.7H961.9M961.9 359.6V361.5M936.6 356.2H982.3M982.3 355.2V356.9M982.3 355.2H983.3M983.3 354.0V356.0M983.3 354.0H988.4M988.4 353.3V354.6M946.0 348.8H969.4M969.4 347.0V350.1M969.4 347.0H970.6M970.6 346.0V347.8M951.5 341.0H974.9M974.9 339.6V341.9M974.9 339.6H984.2M984.2 338.1V340.5M984.2 338.1H984.9M984.9 337.1V339.2M984.9 337.1H985.4M985.4 336.4V337.8M985.4 336.4H991.3M991.3 335.9V336.9M991.3 335.9H998.4M998.4 335.3V336.4M955.0 332.4H975.1M975.1 331.3V333.2M975.1 331.3H983.1M983.1 330.7V331.9M955.0 328.4H966.6M966.6 327.4V329.4M966.6 329.4H968.6M968.6 328.9V329.8M966.6 327.4H968.2M968.2 326.4V328.2M964.4 323.0H965.3M965.3 322.0V323.7M965.3 322.0H965.9M965.9 320.9V322.8M965.9 320.9H974.1M974.1 320.4V321.4M974.1 320.4H975.8M975.8 319.8V321.0M964.4 317.0H965.9M965.9 314.4V319.1M965.9 314.4H967.5M967.5 313.7V315.0M967.5 313.7H968.3M968.3 313.2V314.1" stroke="#bf7e72" stroke-width="2.0" stroke-linecap="butt" fill="none"/>
<path d="M883.0 441.3H953.1M883.0 440.8H1028.5M883.0 440.4H934.7M883.0 439.9H973.7M883.0 439.5H963.0M921.5 439.0H1037.5M922.9 438.6H1029.4M922.9 438.1H1028.1M922.9 437.2H925.9M925.9 436.8V437.7M925.9 437.7H954.7M925.9 437.2H1051.6M925.9 436.8H1061.3M916.0 436.3H1040.2M918.9 435.8H1056.0M920.0 435.4H1030.8M920.0 434.5H920.6M920.6 434.0V434.9M920.6 434.9H1042.9M920.6 434.5H1061.5M920.6 434.0H1044.7M910.5 433.6H927.3M915.4 433.1H1048.8M916.1 432.7H1026.6M916.1 432.2H1008.5M916.8 431.7H1004.8M916.8 431.3H1001.5M916.8 430.6H921.0M921.0 430.4V430.8M921.0 430.8H1038.7M921.0 430.4H1043.5M887.7 429.9H1045.7M887.7 429.5H1051.5M887.7 429.0H936.6M946.5 428.6H957.6M946.5 428.1H1052.1M946.5 427.7H1035.8M946.5 427.2H1040.0M947.8 426.5H949.4M949.4 426.3V426.7M949.4 426.7H972.5M949.4 426.3H1058.6M947.8 425.6H950.7M950.7 425.4V425.8M950.7 425.8H1049.8M950.7 425.4H1028.2M916.6 424.9H967.8M916.6 424.5H1062.8M916.6 424.0H1035.1M958.0 423.6H1032.5M958.0 423.1H1055.9M958.0 422.6H1056.6M962.3 422.0H964.6M964.6 421.7V422.2M964.6 422.2H1032.7M964.6 421.7H1040.8M962.3 420.8H963.7M963.7 420.4V421.3M963.7 421.3H1059.9M963.7 420.8H1062.0M963.7 420.4H1052.7M972.0 419.9H1025.9M972.0 419.5H979.0M972.0 419.0H1033.3M975.0 418.3H977.8M977.8 418.1V418.6M977.8 418.6H1066.6M977.8 418.1H1031.3M975.9 417.6H1039.1M975.9 417.2H1061.0M975.9 416.5H977.5M977.5 416.3V416.7M977.5 416.7H1053.5M977.5 416.3H1039.5M949.0 415.8H961.8M949.0 415.4H1043.4M950.0 414.5H952.2M952.2 414.0V414.9M952.2 414.9H1063.1M952.2 414.5H1054.6M952.2 414.0H1068.4M950.7 413.3H956.8M956.8 413.1V413.5M956.8 413.5H1059.8M956.8 413.1H1055.1M954.5 412.4H955.6M955.6 412.2V412.6M955.6 412.6H1057.8M955.6 412.2H991.6M954.5 411.5H957.5M957.5 411.3V411.7M957.5 411.7H1031.4M957.5 411.3H1053.6M930.0 410.8H1065.6M938.0 410.4H981.9M938.0 409.9H1026.9M938.0 409.2H939.5M939.5 409.0V409.5M939.5 409.5H1025.4M939.5 409.0H1050.0M934.7 408.5H1035.0M934.7 408.1H1069.4M934.7 407.6H1053.2M936.2 407.2H1048.5M936.2 406.7H997.7M936.2 406.0H937.5M937.5 405.8V406.3M937.5 406.3H1053.0M937.5 405.8H1054.4M955.0 405.4H1050.1M955.9 404.9H1002.0M955.9 404.4H1034.3M955.9 404.0H998.3M955.9 403.3H962.4M962.4 403.1V403.5M962.4 403.5H1049.1M962.4 403.1H1039.8M972.0 402.6H1065.3M972.0 401.7H974.3M974.3 401.3V402.2M974.3 402.2H1058.9M974.3 401.7H1047.7M974.3 401.3H1047.9M990.0 400.8H1053.7M992.2 400.4H1066.1M992.2 399.4H993.0M993.0 399.0V399.9M993.0 399.9H1051.1M993.0 399.4H1025.8M993.0 399.0H1065.3M868.0 396.0H869.2M868.0 395.6H1065.5M868.0 395.1H1030.7M868.0 394.7H1032.7M952.0 394.0H957.9M957.9 393.8V394.2M957.9 394.2H1063.3M957.9 393.8H1050.1M952.7 393.1H953.7M953.7 392.8V393.3M953.7 393.3H978.3M953.7 392.8H1042.7M952.7 392.2H953.9M953.9 391.9V392.4M953.9 392.4H1059.1M953.9 391.9H1016.0M911.8 391.5H988.6M911.8 391.0H1033.2M911.8 390.6H951.7M912.7 390.1H1031.6M913.5 389.7H1030.2M913.5 389.2H974.8M913.5 388.5H914.2M914.2 388.3V388.8M914.2 388.8H970.8M914.2 388.3H1037.3M900.0 387.8H960.0M900.0 387.4H934.2M973.3 386.9H1034.4M973.3 386.5H1060.6M973.3 385.6H979.3M979.3 385.1V386.0M979.3 386.0H1034.2M979.3 385.6H1049.5M979.3 385.1H1030.0M953.4 384.7H969.0M954.3 384.2H1066.0M962.1 383.7H1061.4M968.2 383.3H1068.1M968.2 382.8H1035.0M968.2 382.2H969.1M969.1 381.9V382.4M969.1 382.4H1051.2M969.1 381.9H1060.3M908.0 381.5H1033.2M908.0 381.0H1035.2M908.0 380.6H1027.4M953.5 379.9H955.4M955.4 379.7V380.1M955.4 380.1H991.9M955.4 379.7H1059.2M953.5 378.7H954.2M954.2 378.3V379.2M954.2 379.2H1063.3M954.2 378.7H1063.1M954.2 378.3H1065.9M962.2 377.8H1040.1M962.2 377.4H1068.8M962.2 376.5H964.4M964.4 376.0V376.9M964.4 376.9H1026.0M964.4 376.5H1024.4M964.4 376.0H1032.4M969.5 375.6H1049.6M969.5 375.1H1051.7M973.1 374.6H1034.1M973.1 373.7H977.1M977.1 373.3V374.2M977.1 374.2H1023.2M977.1 373.7H1065.8M977.1 373.3H1032.9M912.6 372.8H1035.6M912.6 372.4H1054.6M967.3 371.9H1027.4M967.3 371.5H1030.0M967.3 370.8H968.3M968.3 370.6V371.0M968.3 371.0H1025.9M968.3 370.6H1045.7M966.3 369.9H968.4M968.4 369.6V370.1M968.4 370.1H1053.4M968.4 369.6H1030.5M977.7 369.2H979.9M977.7 368.3H978.7M978.7 367.8V368.7M978.7 368.7H1067.6M978.7 368.3H1064.7M978.7 367.8H1001.0M925.0 367.4H1064.4M925.0 366.9H1060.9M925.0 366.5H1066.5M962.7 366.0H1067.8M962.7 365.5H1057.4M964.7 365.1H1040.2M964.7 364.6H1038.9M964.7 364.0H968.0M968.0 363.7V364.2M968.0 364.2H1027.1M968.0 363.7H1025.8M950.9 363.3H1053.7M958.9 362.8H988.6M960.2 362.4H1047.8M960.2 361.9H1063.8M961.9 361.5H1064.0M961.9 361.0H1033.9M961.9 360.5H969.9M961.9 359.6H964.0M964.0 359.2V360.1M964.0 360.1H1024.5M964.0 359.6H1041.1M964.0 359.2H1067.8M936.6 358.7H1022.6M936.6 358.3H1024.5M936.6 357.6H969.8M969.8 357.4V357.8M969.8 357.8H1037.3M969.8 357.4H1049.3M982.3 356.9H1052.7M982.3 356.4H1067.1M983.3 356.0H1059.2M983.3 355.5H1035.8M983.3 355.1H1022.8M988.4 354.6H1062.7M988.4 354.2H1040.4M988.4 353.3H990.0M990.0 352.8V353.7M990.0 353.7H1029.4M990.0 353.3H1055.5M990.0 352.8H1029.5M946.0 352.4H979.9M946.0 351.9H1067.5M946.0 351.4H1063.7M946.0 350.8H966.5M966.5 350.5V351.0M966.5 351.0H1068.2M966.5 350.5H996.5M969.4 350.1H1031.7M969.4 349.6H1054.8M969.4 349.2H978.3M969.4 348.7H1064.8M969.4 348.3H1040.8M970.6 347.8H1068.5M970.6 347.3H1041.2M970.6 346.9H1034.3M970.6 346.0H971.3M971.3 345.5V346.4M971.3 346.4H1031.8M971.3 346.0H1030.7M971.3 345.5H1062.2M951.5 345.1H1069.1M951.5 344.6H963.0M951.5 344.2H1026.9M951.5 343.7H1068.9M951.5 342.8H972.4M972.4 342.3V343.3M972.4 343.3H1070.1M972.4 342.8H1045.7M972.4 342.3H1007.6M974.9 341.9H1062.3M974.9 341.4H1019.6M974.9 341.0H1027.2M984.2 340.5H1028.4M984.2 340.1H1039.3M984.9 339.2H985.8M985.8 338.7V339.6M985.8 339.6H1071.0M985.8 339.2H1068.6M985.8 338.7H1051.8M985.4 337.8H986.7M986.7 337.3V338.2M986.7 338.2H1053.0M986.7 337.8H995.4M986.7 337.3H1034.5M991.3 336.9H1064.3M998.4 336.4H1067.2M998.4 336.0H1020.7M998.4 335.3H1003.0M1003.0 335.1V335.5M1003.0 335.5H1022.7M1003.0 335.1H1054.7M955.0 334.6H1045.3M955.0 334.2H1031.8M955.0 333.7H1051.4M975.1 333.2H1030.2M975.1 332.8H1007.5M975.1 332.3H1069.7M983.1 331.9H1028.0M983.1 331.4H1046.2M983.1 330.7H985.7M985.7 330.5V331.0M985.7 331.0H1069.4M985.7 330.5H1024.0M968.6 329.8H970.2M970.2 329.6V330.1M970.2 330.1H1031.2M970.2 329.6H1063.5M968.6 328.9H969.2M969.2 328.7V329.1M969.2 329.1H1059.7M969.2 328.7H1048.9M968.2 328.2H1070.1M968.2 327.8H1036.7M968.2 327.3H1040.3M968.2 326.4H972.9M972.9 326.0V326.9M972.9 326.9H1034.9M972.9 326.4H1035.5M972.9 326.0H1037.7M958.5 325.5H994.3M958.5 324.8H960.5M960.5 324.6V325.1M960.5 325.1H1055.6M960.5 324.6H1055.4M963.2 324.1H1045.3M965.3 323.7H1061.0M965.3 323.2H1023.4M965.9 322.8H1067.0M965.9 322.3H1036.3M965.9 321.9H1030.4M974.1 321.4H1048.4M975.8 321.0H1053.5M975.8 320.5H1032.9M975.8 319.8H980.8M980.8 319.6V320.0M980.8 320.0H1064.5M980.8 319.6H1068.7M965.9 319.1H1053.4M965.9 318.7H1062.1M965.9 318.2H1045.0M965.9 317.8H1032.1M965.9 317.3H1064.1M965.9 316.9H1066.1M965.9 316.4H1028.3M965.9 316.0H1059.7M965.9 315.5H1065.8M967.5 315.0H1031.5M967.5 314.6H1062.3M968.3 314.1H1064.0M968.3 313.2H969.3M969.3 312.8V313.7M969.3 313.7H1023.8M969.3 313.2H1063.7M969.3 312.8H986.1" stroke="#bf7e72" stroke-width="1.5" stroke-linecap="butt" fill="none"/>
</g>
<g fill="#dff5fa" stroke="#bfe0e7" stroke-width="1">
<circle cx="310.4" cy="443.4" r="3.95"/><circle cx="327.4" cy="446.9" r="3.95"/>
</g>
<g fill="#fdf8b4" stroke="#e6dd92" stroke-width="1">
<circle cx="203.0" cy="566.2" r="3.95"/><circle cx="318.0" cy="565.4" r="3.95"/><circle cx="340.2" cy="565.8" r="3.95"/><circle cx="367.6" cy="565.2" r="3.95"/>
</g>
<g fill="#dff5fa" stroke="#bfe0e7" stroke-width="1">
<circle cx="778.5" cy="564.5" r="3.95"/><circle cx="380.6" cy="564.1" r="3.95"/><circle cx="323.6" cy="563.6" r="3.95"/><circle cx="840.4" cy="563.2" r="3.95"/><circle cx="826.1" cy="562.7" r="3.95"/><circle cx="786.4" cy="559.4" r="3.95"/><circle cx="778.7" cy="559.0" r="3.95"/><circle cx="499.7" cy="558.5" r="3.95"/><circle cx="807.3" cy="555.3" r="3.95"/><circle cx="768.1" cy="554.8" r="3.95"/><circle cx="823.6" cy="554.4" r="3.95"/><circle cx="634.0" cy="554.0" r="3.95"/><circle cx="749.9" cy="553.5" r="3.95"/><circle cx="658.0" cy="553.1" r="3.95"/><circle cx="751.2" cy="552.6" r="3.95"/><circle cx="648.0" cy="552.2" r="3.95"/><circle cx="792.8" cy="551.8" r="3.95"/><circle cx="785.9" cy="551.3" r="3.95"/><circle cx="787.2" cy="550.9" r="3.95"/><circle cx="805.7" cy="550.4" r="3.95"/><circle cx="787.4" cy="550.0" r="3.95"/><circle cx="704.6" cy="549.6" r="3.95"/><circle cx="847.4" cy="549.1" r="3.95"/><circle cx="828.4" cy="548.7" r="3.95"/><circle cx="770.6" cy="548.2" r="3.95"/><circle cx="797.1" cy="547.8" r="3.95"/><circle cx="794.6" cy="547.4" r="3.95"/><circle cx="769.4" cy="546.9" r="3.95"/><circle cx="797.2" cy="546.5" r="3.95"/><circle cx="849.9" cy="546.0" r="3.95"/><circle cx="797.9" cy="545.6" r="3.95"/><circle cx="787.2" cy="545.2" r="3.95"/><circle cx="793.5" cy="544.7" r="3.95"/><circle cx="777.4" cy="544.3" r="3.95"/><circle cx="791.0" cy="543.8" r="3.95"/><circle cx="814.6" cy="543.4" r="3.95"/><circle cx="783.7" cy="543.0" r="3.95"/><circle cx="795.1" cy="542.5" r="3.95"/><circle cx="783.5" cy="542.1" r="3.95"/><circle cx="775.3" cy="541.6" r="3.95"/><circle cx="800.6" cy="541.2" r="3.95"/><circle cx="793.9" cy="540.8" r="3.95"/><circle cx="816.4" cy="540.3" r="3.95"/><circle cx="823.5" cy="539.9" r="3.95"/><circle cx="791.4" cy="539.4" r="3.95"/><circle cx="739.9" cy="539.0" r="3.95"/><circle cx="724.8" cy="538.6" r="3.95"/><circle cx="892.0" cy="538.1" r="3.95"/><circle cx="823.3" cy="537.7" r="3.95"/><circle cx="826.8" cy="537.2" r="3.95"/><circle cx="831.9" cy="536.8" r="3.95"/><circle cx="789.0" cy="536.4" r="3.95"/><circle cx="801.7" cy="535.9" r="3.95"/><circle cx="789.2" cy="535.5" r="3.95"/><circle cx="848.0" cy="535.0" r="3.95"/><circle cx="792.8" cy="534.6" r="3.95"/><circle cx="792.1" cy="534.2" r="3.95"/><circle cx="781.1" cy="533.7" r="3.95"/><circle cx="761.2" cy="533.3" r="3.95"/><circle cx="757.1" cy="532.8" r="3.95"/><circle cx="762.2" cy="532.4" r="3.95"/><circle cx="757.7" cy="532.0" r="3.95"/><circle cx="761.2" cy="531.5" r="3.95"/><circle cx="764.0" cy="531.1" r="3.95"/><circle cx="756.8" cy="530.6" r="3.95"/><circle cx="820.9" cy="499.0" r="3.95"/><circle cx="827.6" cy="498.5" r="3.95"/><circle cx="829.8" cy="498.1" r="3.95"/><circle cx="825.4" cy="497.6" r="3.95"/><circle cx="816.0" cy="497.2" r="3.95"/><circle cx="823.5" cy="496.8" r="3.95"/><circle cx="823.6" cy="496.3" r="3.95"/><circle cx="820.3" cy="495.9" r="3.95"/><circle cx="769.3" cy="495.4" r="3.95"/><circle cx="757.7" cy="495.0" r="3.95"/><circle cx="922.0" cy="494.6" r="3.95"/><circle cx="767.9" cy="494.1" r="3.95"/><circle cx="759.2" cy="493.7" r="3.95"/><circle cx="757.1" cy="493.2" r="3.95"/><circle cx="760.6" cy="492.8" r="3.95"/><circle cx="808.3" cy="492.4" r="3.95"/><circle cx="760.8" cy="491.9" r="3.95"/><circle cx="751.4" cy="491.5" r="3.95"/><circle cx="756.7" cy="491.0" r="3.95"/><circle cx="824.5" cy="490.6" r="3.95"/><circle cx="797.7" cy="490.2" r="3.95"/><circle cx="796.8" cy="489.7" r="3.95"/><circle cx="823.1" cy="489.3" r="3.95"/><circle cx="820.3" cy="488.8" r="3.95"/><circle cx="830.2" cy="488.4" r="3.95"/><circle cx="781.3" cy="488.0" r="3.95"/><circle cx="759.0" cy="487.5" r="3.95"/><circle cx="764.5" cy="487.1" r="3.95"/><circle cx="796.9" cy="486.6" r="3.95"/><circle cx="765.6" cy="486.2" r="3.95"/><circle cx="824.9" cy="485.8" r="3.95"/><circle cx="759.6" cy="485.3" r="3.95"/><circle cx="766.9" cy="484.9" r="3.95"/><circle cx="758.7" cy="484.4" r="3.95"/><circle cx="899.0" cy="484.0" r="3.95"/><circle cx="787.1" cy="483.6" r="3.95"/><circle cx="775.3" cy="483.1" r="3.95"/><circle cx="791.3" cy="482.7" r="3.95"/><circle cx="782.8" cy="482.2" r="3.95"/><circle cx="785.3" cy="481.8" r="3.95"/><circle cx="791.0" cy="481.4" r="3.95"/><circle cx="777.9" cy="480.9" r="3.95"/><circle cx="811.8" cy="480.5" r="3.95"/><circle cx="788.4" cy="480.0" r="3.95"/><circle cx="791.8" cy="479.6" r="3.95"/><circle cx="782.2" cy="479.2" r="3.95"/><circle cx="736.7" cy="478.7" r="3.95"/><circle cx="735.0" cy="478.3" r="3.95"/><circle cx="741.7" cy="477.8" r="3.95"/><circle cx="835.3" cy="477.4" r="3.95"/><circle cx="743.2" cy="477.0" r="3.95"/><circle cx="814.8" cy="476.5" r="3.95"/><circle cx="808.1" cy="476.1" r="3.95"/><circle cx="813.4" cy="475.6" r="3.95"/><circle cx="821.6" cy="475.2" r="3.95"/><circle cx="785.4" cy="474.8" r="3.95"/><circle cx="816.9" cy="474.3" r="3.95"/><circle cx="814.3" cy="473.9" r="3.95"/><circle cx="756.9" cy="473.4" r="3.95"/><circle cx="803.6" cy="473.0" r="3.95"/><circle cx="807.5" cy="472.6" r="3.95"/><circle cx="809.7" cy="472.1" r="3.95"/><circle cx="816.4" cy="471.7" r="3.95"/><circle cx="808.4" cy="471.2" r="3.95"/><circle cx="806.4" cy="470.8" r="3.95"/><circle cx="818.1" cy="470.4" r="3.95"/><circle cx="819.5" cy="469.9" r="3.95"/><circle cx="811.3" cy="469.5" r="3.95"/><circle cx="824.5" cy="469.0" r="3.95"/><circle cx="782.2" cy="468.6" r="3.95"/><circle cx="775.4" cy="468.2" r="3.95"/><circle cx="771.2" cy="467.7" r="3.95"/><circle cx="827.9" cy="467.3" r="3.95"/><circle cx="782.4" cy="466.8" r="3.95"/><circle cx="842.1" cy="466.4" r="3.95"/><circle cx="823.4" cy="466.0" r="3.95"/><circle cx="765.6" cy="465.5" r="3.95"/><circle cx="759.0" cy="465.1" r="3.95"/><circle cx="707.6" cy="464.6" r="3.95"/><circle cx="767.1" cy="464.2" r="3.95"/><circle cx="764.9" cy="463.8" r="3.95"/><circle cx="752.6" cy="463.3" r="3.95"/><circle cx="813.4" cy="462.9" r="3.95"/><circle cx="749.7" cy="462.4" r="3.95"/><circle cx="768.7" cy="462.0" r="3.95"/><circle cx="849.0" cy="461.6" r="3.95"/><circle cx="760.2" cy="461.1" r="3.95"/><circle cx="759.3" cy="460.7" r="3.95"/><circle cx="766.4" cy="460.2" r="3.95"/><circle cx="768.4" cy="459.8" r="3.95"/><circle cx="764.5" cy="459.4" r="3.95"/><circle cx="899.0" cy="458.9" r="3.95"/><circle cx="774.4" cy="458.5" r="3.95"/><circle cx="778.0" cy="458.0" r="3.95"/><circle cx="774.0" cy="457.6" r="3.95"/><circle cx="773.0" cy="457.2" r="3.95"/><circle cx="776.5" cy="456.7" r="3.95"/><circle cx="779.5" cy="456.3" r="3.95"/><circle cx="781.4" cy="455.8" r="3.95"/><circle cx="748.2" cy="455.4" r="3.95"/><circle cx="817.5" cy="455.0" r="3.95"/><circle cx="760.0" cy="454.5" r="3.95"/><circle cx="815.6" cy="454.1" r="3.95"/><circle cx="812.5" cy="453.6" r="3.95"/><circle cx="797.5" cy="453.2" r="3.95"/><circle cx="818.7" cy="452.8" r="3.95"/><circle cx="800.3" cy="452.3" r="3.95"/>
</g>
<g fill="#f3f7c9" stroke="#dde2ac" stroke-width="1">
<circle cx="800.7" cy="530.2" r="3.95"/><circle cx="791.7" cy="529.8" r="3.95"/><circle cx="805.6" cy="529.3" r="3.95"/><circle cx="796.6" cy="528.9" r="3.95"/><circle cx="606.6" cy="528.4" r="3.95"/><circle cx="778.3" cy="528.0" r="3.95"/><circle cx="759.7" cy="527.6" r="3.95"/><circle cx="838.0" cy="527.1" r="3.95"/><circle cx="764.9" cy="526.7" r="3.95"/><circle cx="853.0" cy="526.2" r="3.95"/><circle cx="870.0" cy="525.8" r="3.95"/><circle cx="788.3" cy="525.4" r="3.95"/><circle cx="831.8" cy="524.9" r="3.95"/><circle cx="651.0" cy="524.5" r="3.95"/><circle cx="754.1" cy="524.0" r="3.95"/><circle cx="722.5" cy="523.6" r="3.95"/><circle cx="760.9" cy="523.2" r="3.95"/><circle cx="752.7" cy="522.7" r="3.95"/><circle cx="795.0" cy="522.3" r="3.95"/><circle cx="778.6" cy="521.8" r="3.95"/><circle cx="792.2" cy="521.4" r="3.95"/><circle cx="633.0" cy="521.0" r="3.95"/><circle cx="801.9" cy="520.5" r="3.95"/><circle cx="808.2" cy="520.1" r="3.95"/><circle cx="764.7" cy="519.6" r="3.95"/><circle cx="755.7" cy="519.2" r="3.95"/><circle cx="792.3" cy="518.8" r="3.95"/><circle cx="780.8" cy="518.3" r="3.95"/><circle cx="753.0" cy="517.9" r="3.95"/><circle cx="777.6" cy="517.4" r="3.95"/><circle cx="804.3" cy="517.0" r="3.95"/><circle cx="709.3" cy="516.6" r="3.95"/><circle cx="789.7" cy="516.1" r="3.95"/><circle cx="764.5" cy="515.7" r="3.95"/><circle cx="834.1" cy="515.2" r="3.95"/><circle cx="811.1" cy="514.8" r="3.95"/><circle cx="767.6" cy="514.4" r="3.95"/><circle cx="764.4" cy="513.9" r="3.95"/><circle cx="754.3" cy="513.5" r="3.95"/><circle cx="764.6" cy="513.0" r="3.95"/><circle cx="750.8" cy="512.6" r="3.95"/><circle cx="792.7" cy="512.2" r="3.95"/><circle cx="812.0" cy="511.7" r="3.95"/><circle cx="758.6" cy="511.3" r="3.95"/><circle cx="768.6" cy="510.8" r="3.95"/><circle cx="779.2" cy="510.4" r="3.95"/><circle cx="840.0" cy="510.0" r="3.95"/><circle cx="774.4" cy="509.5" r="3.95"/><circle cx="780.5" cy="509.1" r="3.95"/><circle cx="793.6" cy="508.6" r="3.95"/><circle cx="804.7" cy="508.2" r="3.95"/><circle cx="754.5" cy="507.8" r="3.95"/><circle cx="773.6" cy="507.3" r="3.95"/><circle cx="750.0" cy="506.9" r="3.95"/><circle cx="794.4" cy="506.4" r="3.95"/><circle cx="796.5" cy="506.0" r="3.95"/><circle cx="796.5" cy="505.6" r="3.95"/><circle cx="797.1" cy="505.1" r="3.95"/><circle cx="756.6" cy="504.7" r="3.95"/><circle cx="784.8" cy="504.2" r="3.95"/><circle cx="730.0" cy="503.8" r="3.95"/><circle cx="810.7" cy="503.4" r="3.95"/><circle cx="846.0" cy="502.9" r="3.95"/><circle cx="812.7" cy="502.5" r="3.95"/><circle cx="806.2" cy="502.0" r="3.95"/><circle cx="757.8" cy="501.6" r="3.95"/><circle cx="808.8" cy="501.2" r="3.95"/><circle cx="793.7" cy="500.7" r="3.95"/><circle cx="790.9" cy="500.3" r="3.95"/><circle cx="797.7" cy="499.8" r="3.95"/><circle cx="776.9" cy="499.4" r="3.95"/>
</g>
<g fill="#5cc8c8" stroke="#49a9a9" stroke-width="1">
<circle cx="819.0" cy="557.8" r="3.95"/><circle cx="973.0" cy="556.2" r="3.95"/><circle cx="1004.0" cy="557.2" r="3.95"/>
</g>
<g fill="#f2fbfd" stroke="#cfe6ea" stroke-width="1">
<circle cx="1018.0" cy="563.1" r="3.95"/>
</g>
<g fill="#8a46f0" stroke="#7438d0" stroke-width="1">
<circle cx="900.3" cy="562.4" r="3.95"/>
</g>
<g fill="#dff5fa" stroke="#bfe0e7" stroke-width="1">
<circle cx="899.0" cy="308.3" r="3.95"/><circle cx="908.5" cy="307.8" r="3.95"/><circle cx="945.4" cy="308.7" r="3.95"/><circle cx="981.9" cy="310.0" r="3.95"/><circle cx="986.1" cy="310.7" r="3.95"/><circle cx="1014.1" cy="307.8" r="3.95"/><circle cx="773.0" cy="443.6" r="3.95"/><circle cx="819.5" cy="447.2" r="3.95"/><circle cx="831.0" cy="448.0" r="3.95"/><circle cx="908.9" cy="444.2" r="3.95"/><circle cx="928.9" cy="444.5" r="3.95"/><circle cx="983.9" cy="447.9" r="3.95"/><circle cx="1000.5" cy="442.0" r="3.95"/><circle cx="1007.3" cy="443.3" r="3.95"/><circle cx="1047.2" cy="442.0" r="3.95"/>
</g>
<g fill="#f8d6ea" stroke="#e2bad2" stroke-width="1">
<circle cx="897.5" cy="446.6" r="3.95"/><circle cx="977.6" cy="446.2" r="3.95"/>
</g>
<g fill="#f6c644" stroke="#d4a232" stroke-width="1">
<circle cx="979.5" cy="306.6" r="3.95"/><circle cx="950.6" cy="306.2" r="3.95"/><circle cx="980.1" cy="305.7" r="3.95"/><circle cx="1004.7" cy="305.3" r="3.95"/><circle cx="988.4" cy="304.8" r="3.95"/><circle cx="888.1" cy="304.4" r="3.95"/><circle cx="976.0" cy="303.9" r="3.95"/><circle cx="963.7" cy="303.5" r="3.95"/><circle cx="921.8" cy="303.0" r="3.95"/><circle cx="959.2" cy="302.6" r="3.95"/><circle cx="993.3" cy="302.2" r="3.95"/><circle cx="1023.7" cy="301.7" r="3.95"/><circle cx="940.1" cy="301.3" r="3.95"/><circle cx="891.4" cy="300.8" r="3.95"/><circle cx="935.2" cy="300.4" r="3.95"/><circle cx="995.2" cy="299.9" r="3.95"/><circle cx="1068.5" cy="299.5" r="3.95"/><circle cx="980.2" cy="299.0" r="3.95"/><circle cx="934.4" cy="298.6" r="3.95"/><circle cx="985.0" cy="298.1" r="3.95"/><circle cx="1063.4" cy="297.7" r="3.95"/><circle cx="995.8" cy="297.3" r="3.95"/><circle cx="908.9" cy="296.8" r="3.95"/><circle cx="957.1" cy="296.4" r="3.95"/><circle cx="922.2" cy="295.9" r="3.95"/><circle cx="896.0" cy="295.5" r="3.95"/><circle cx="990.2" cy="295.0" r="3.95"/><circle cx="981.6" cy="294.6" r="3.95"/><circle cx="977.7" cy="294.1" r="3.95"/><circle cx="943.4" cy="293.7" r="3.95"/><circle cx="892.6" cy="293.3" r="3.95"/><circle cx="890.0" cy="292.8" r="3.95"/><circle cx="930.6" cy="292.4" r="3.95"/><circle cx="937.1" cy="291.9" r="3.95"/><circle cx="895.4" cy="291.5" r="3.95"/><circle cx="959.6" cy="291.0" r="3.95"/><circle cx="986.5" cy="290.6" r="3.95"/><circle cx="994.3" cy="290.1" r="3.95"/><circle cx="982.6" cy="289.7" r="3.95"/><circle cx="922.0" cy="289.2" r="3.95"/><circle cx="993.7" cy="288.8" r="3.95"/><circle cx="1020.5" cy="288.4" r="3.95"/><circle cx="881.0" cy="287.9" r="3.95"/><circle cx="1019.0" cy="287.5" r="3.95"/><circle cx="955.3" cy="287.0" r="3.95"/><circle cx="895.7" cy="286.6" r="3.95"/><circle cx="981.7" cy="286.1" r="3.95"/><circle cx="1023.7" cy="285.7" r="3.95"/><circle cx="893.4" cy="285.2" r="3.95"/><circle cx="1026.5" cy="284.8" r="3.95"/><circle cx="948.0" cy="284.4" r="3.95"/><circle cx="895.6" cy="283.9" r="3.95"/><circle cx="894.2" cy="283.5" r="3.95"/><circle cx="939.8" cy="283.0" r="3.95"/><circle cx="896.3" cy="282.6" r="3.95"/><circle cx="1022.1" cy="282.1" r="3.95"/><circle cx="904.0" cy="281.7" r="3.95"/><circle cx="899.4" cy="281.2" r="3.95"/><circle cx="932.7" cy="280.8" r="3.95"/><circle cx="974.7" cy="280.3" r="3.95"/><circle cx="889.5" cy="279.9" r="3.95"/><circle cx="951.8" cy="279.5" r="3.95"/><circle cx="882.0" cy="279.0" r="3.95"/><circle cx="891.9" cy="278.6" r="3.95"/><circle cx="1017.1" cy="278.1" r="3.95"/><circle cx="1010.2" cy="277.7" r="3.95"/><circle cx="935.3" cy="277.2" r="3.95"/><circle cx="1017.2" cy="276.8" r="3.95"/><circle cx="892.9" cy="276.3" r="3.95"/><circle cx="979.2" cy="275.9" r="3.95"/><circle cx="962.8" cy="275.5" r="3.95"/><circle cx="1012.8" cy="275.0" r="3.95"/><circle cx="964.3" cy="274.6" r="3.95"/><circle cx="950.6" cy="274.1" r="3.95"/><circle cx="915.8" cy="273.7" r="3.95"/><circle cx="973.4" cy="273.2" r="3.95"/><circle cx="1015.0" cy="272.8" r="3.95"/><circle cx="935.3" cy="270.1" r="3.95"/><circle cx="973.4" cy="269.7" r="3.95"/><circle cx="954.1" cy="269.2" r="3.95"/><circle cx="996.1" cy="268.8" r="3.95"/><circle cx="978.4" cy="268.4" r="3.95"/><circle cx="840.0" cy="267.9" r="3.95"/><circle cx="957.5" cy="267.5" r="3.95"/><circle cx="909.0" cy="267.0" r="3.95"/><circle cx="789.0" cy="266.6" r="3.95"/><circle cx="878.0" cy="266.1" r="3.95"/><circle cx="960.4" cy="265.7" r="3.95"/><circle cx="858.0" cy="265.2" r="3.95"/><circle cx="845.0" cy="264.8" r="3.95"/><circle cx="976.1" cy="264.4" r="3.95"/><circle cx="770.0" cy="263.9" r="3.95"/><circle cx="803.0" cy="263.5" r="3.95"/><circle cx="930.3" cy="263.0" r="3.95"/><circle cx="832.0" cy="262.6" r="3.95"/><circle cx="778.0" cy="262.1" r="3.95"/><circle cx="818.0" cy="261.7" r="3.95"/><circle cx="981.3" cy="261.2" r="3.95"/><circle cx="941.1" cy="260.8" r="3.95"/><circle cx="869.4" cy="260.3" r="3.95"/><circle cx="810.2" cy="259.9" r="3.95"/><circle cx="959.5" cy="259.5" r="3.95"/><circle cx="735.0" cy="259.0" r="3.95"/><circle cx="822.0" cy="258.6" r="3.95"/><circle cx="765.0" cy="258.1" r="3.95"/><circle cx="812.0" cy="257.7" r="3.95"/><circle cx="983.5" cy="257.2" r="3.95"/><circle cx="826.0" cy="256.8" r="3.95"/><circle cx="1021.8" cy="256.3" r="3.95"/><circle cx="984.3" cy="255.9" r="3.95"/><circle cx="888.8" cy="255.5" r="3.95"/><circle cx="834.3" cy="255.0" r="3.95"/><circle cx="762.0" cy="254.6" r="3.95"/><circle cx="772.0" cy="254.1" r="3.95"/><circle cx="927.4" cy="253.7" r="3.95"/><circle cx="947.4" cy="253.2" r="3.95"/><circle cx="994.3" cy="252.8" r="3.95"/><circle cx="976.7" cy="252.3" r="3.95"/><circle cx="879.6" cy="251.9" r="3.95"/><circle cx="1020.3" cy="251.4" r="3.95"/><circle cx="973.5" cy="251.0" r="3.95"/><circle cx="981.3" cy="250.6" r="3.95"/><circle cx="969.2" cy="250.1" r="3.95"/><circle cx="967.9" cy="249.7" r="3.95"/><circle cx="1024.5" cy="249.2" r="3.95"/><circle cx="804.0" cy="248.8" r="3.95"/><circle cx="911.4" cy="248.3" r="3.95"/><circle cx="968.3" cy="247.9" r="3.95"/><circle cx="979.7" cy="247.4" r="3.95"/><circle cx="978.3" cy="247.0" r="3.95"/><circle cx="972.4" cy="246.6" r="3.95"/><circle cx="903.1" cy="246.1" r="3.95"/><circle cx="972.0" cy="245.7" r="3.95"/><circle cx="988.3" cy="245.2" r="3.95"/><circle cx="950.5" cy="244.8" r="3.95"/><circle cx="977.6" cy="244.3" r="3.95"/><circle cx="950.6" cy="243.9" r="3.95"/><circle cx="972.2" cy="243.4" r="3.95"/><circle cx="999.6" cy="243.0" r="3.95"/><circle cx="976.6" cy="242.5" r="3.95"/><circle cx="905.7" cy="242.1" r="3.95"/><circle cx="957.3" cy="241.7" r="3.95"/><circle cx="961.2" cy="241.2" r="3.95"/><circle cx="937.9" cy="240.8" r="3.95"/><circle cx="947.1" cy="240.3" r="3.95"/><circle cx="982.2" cy="239.9" r="3.95"/><circle cx="979.9" cy="239.4" r="3.95"/><circle cx="904.5" cy="239.0" r="3.95"/><circle cx="974.7" cy="238.5" r="3.95"/><circle cx="979.6" cy="238.1" r="3.95"/><circle cx="1032.0" cy="237.7" r="3.95"/><circle cx="1006.9" cy="237.2" r="3.95"/><circle cx="900.4" cy="236.8" r="3.95"/><circle cx="963.3" cy="236.3" r="3.95"/><circle cx="997.4" cy="235.9" r="3.95"/><circle cx="905.3" cy="235.4" r="3.95"/><circle cx="908.4" cy="235.0" r="3.95"/><circle cx="887.9" cy="234.5" r="3.95"/><circle cx="1012.0" cy="234.1" r="3.95"/><circle cx="982.3" cy="233.6" r="3.95"/><circle cx="999.1" cy="233.2" r="3.95"/><circle cx="920.6" cy="232.8" r="3.95"/><circle cx="987.6" cy="232.3" r="3.95"/><circle cx="1017.6" cy="231.9" r="3.95"/><circle cx="988.2" cy="231.4" r="3.95"/><circle cx="1029.0" cy="231.0" r="3.95"/><circle cx="979.4" cy="230.5" r="3.95"/><circle cx="975.3" cy="230.1" r="3.95"/><circle cx="973.9" cy="229.6" r="3.95"/><circle cx="946.1" cy="229.2" r="3.95"/><circle cx="972.8" cy="228.8" r="3.95"/><circle cx="972.0" cy="228.3" r="3.95"/><circle cx="1018.6" cy="227.9" r="3.95"/><circle cx="980.9" cy="227.4" r="3.95"/><circle cx="975.0" cy="227.0" r="3.95"/><circle cx="1005.5" cy="226.5" r="3.95"/><circle cx="1018.3" cy="226.1" r="3.95"/><circle cx="1026.7" cy="225.6" r="3.95"/><circle cx="1017.0" cy="225.2" r="3.95"/><circle cx="966.2" cy="224.7" r="3.95"/><circle cx="979.4" cy="224.3" r="3.95"/><circle cx="943.6" cy="223.9" r="3.95"/><circle cx="911.3" cy="223.4" r="3.95"/><circle cx="966.9" cy="223.0" r="3.95"/><circle cx="970.1" cy="222.5" r="3.95"/><circle cx="994.0" cy="222.1" r="3.95"/><circle cx="914.8" cy="221.6" r="3.95"/><circle cx="986.8" cy="221.2" r="3.95"/><circle cx="972.9" cy="220.7" r="3.95"/><circle cx="896.7" cy="220.3" r="3.95"/><circle cx="974.2" cy="219.9" r="3.95"/><circle cx="980.3" cy="219.4" r="3.95"/><circle cx="1030.7" cy="219.0" r="3.95"/><circle cx="923.8" cy="218.5" r="3.95"/><circle cx="1025.1" cy="218.1" r="3.95"/><circle cx="921.8" cy="217.6" r="3.95"/><circle cx="1017.9" cy="217.2" r="3.95"/><circle cx="969.7" cy="216.7" r="3.95"/><circle cx="1020.7" cy="216.3" r="3.95"/><circle cx="979.2" cy="215.8" r="3.95"/><circle cx="1021.0" cy="215.4" r="3.95"/><circle cx="1028.0" cy="215.0" r="3.95"/><circle cx="934.5" cy="214.5" r="3.95"/><circle cx="955.0" cy="214.1" r="3.95"/><circle cx="1041.5" cy="213.6" r="3.95"/><circle cx="911.5" cy="213.2" r="3.95"/><circle cx="929.8" cy="212.7" r="3.95"/><circle cx="985.9" cy="212.3" r="3.95"/><circle cx="1008.2" cy="211.8" r="3.95"/><circle cx="1015.0" cy="211.4" r="3.95"/><circle cx="959.9" cy="211.0" r="3.95"/><circle cx="935.3" cy="210.5" r="3.95"/><circle cx="960.4" cy="210.1" r="3.95"/><circle cx="915.0" cy="209.6" r="3.95"/><circle cx="928.6" cy="209.2" r="3.95"/><circle cx="947.8" cy="208.7" r="3.95"/><circle cx="928.2" cy="208.3" r="3.95"/><circle cx="1039.8" cy="207.8" r="3.95"/><circle cx="920.8" cy="207.4" r="3.95"/><circle cx="974.4" cy="206.9" r="3.95"/><circle cx="937.1" cy="206.5" r="3.95"/><circle cx="974.3" cy="206.1" r="3.95"/><circle cx="1002.4" cy="205.6" r="3.95"/><circle cx="920.7" cy="205.2" r="3.95"/><circle cx="975.1" cy="204.7" r="3.95"/><circle cx="946.0" cy="204.3" r="3.95"/><circle cx="951.6" cy="203.8" r="3.95"/><circle cx="970.2" cy="203.4" r="3.95"/><circle cx="983.1" cy="202.9" r="3.95"/><circle cx="1009.9" cy="202.5" r="3.95"/><circle cx="947.0" cy="202.1" r="3.95"/><circle cx="980.0" cy="201.6" r="3.95"/><circle cx="1025.6" cy="201.2" r="3.95"/><circle cx="907.7" cy="200.7" r="3.95"/><circle cx="923.4" cy="200.3" r="3.95"/><circle cx="968.1" cy="199.8" r="3.95"/><circle cx="983.4" cy="199.4" r="3.95"/><circle cx="978.4" cy="198.9" r="3.95"/><circle cx="923.9" cy="198.5" r="3.95"/><circle cx="964.1" cy="198.0" r="3.95"/><circle cx="989.3" cy="197.6" r="3.95"/><circle cx="975.6" cy="197.2" r="3.95"/><circle cx="916.8" cy="196.7" r="3.95"/><circle cx="982.4" cy="196.3" r="3.95"/><circle cx="981.2" cy="195.8" r="3.95"/><circle cx="1039.5" cy="195.4" r="3.95"/><circle cx="954.7" cy="194.9" r="3.95"/><circle cx="972.0" cy="194.5" r="3.95"/><circle cx="983.6" cy="194.0" r="3.95"/><circle cx="974.1" cy="193.6" r="3.95"/><circle cx="970.2" cy="193.2" r="3.95"/><circle cx="964.0" cy="192.7" r="3.95"/><circle cx="938.2" cy="192.3" r="3.95"/><circle cx="1041.5" cy="191.8" r="3.95"/><circle cx="928.3" cy="191.4" r="3.95"/><circle cx="972.7" cy="190.9" r="3.95"/><circle cx="1022.6" cy="190.5" r="3.95"/><circle cx="971.9" cy="190.0" r="3.95"/><circle cx="1049.5" cy="189.6" r="3.95"/><circle cx="1026.1" cy="189.1" r="3.95"/><circle cx="959.7" cy="188.7" r="3.95"/><circle cx="1004.5" cy="188.3" r="3.95"/><circle cx="1052.0" cy="187.8" r="3.95"/><circle cx="975.0" cy="187.4" r="3.95"/><circle cx="890.8" cy="186.9" r="3.95"/><circle cx="973.9" cy="186.5" r="3.95"/><circle cx="1029.5" cy="186.0" r="3.95"/><circle cx="946.4" cy="185.6" r="3.95"/><circle cx="1012.9" cy="185.1" r="3.95"/><circle cx="977.4" cy="184.7" r="3.95"/><circle cx="928.7" cy="184.3" r="3.95"/><circle cx="921.6" cy="183.8" r="3.95"/><circle cx="975.8" cy="183.4" r="3.95"/><circle cx="933.2" cy="182.9" r="3.95"/><circle cx="937.4" cy="182.5" r="3.95"/><circle cx="1032.5" cy="182.0" r="3.95"/><circle cx="946.4" cy="181.6" r="3.95"/><circle cx="1026.0" cy="181.1" r="3.95"/><circle cx="968.7" cy="180.7" r="3.95"/><circle cx="1035.1" cy="180.2" r="3.95"/><circle cx="982.2" cy="179.8" r="3.95"/><circle cx="1040.3" cy="179.4" r="3.95"/><circle cx="968.7" cy="178.9" r="3.95"/><circle cx="980.6" cy="178.5" r="3.95"/><circle cx="982.1" cy="178.0" r="3.95"/><circle cx="1044.0" cy="177.6" r="3.95"/><circle cx="1025.9" cy="177.1" r="3.95"/><circle cx="1008.3" cy="176.7" r="3.95"/><circle cx="973.5" cy="176.2" r="3.95"/><circle cx="915.8" cy="175.8" r="3.95"/><circle cx="945.7" cy="175.4" r="3.95"/><circle cx="960.9" cy="174.9" r="3.95"/><circle cx="977.3" cy="174.5" r="3.95"/><circle cx="924.6" cy="174.0" r="3.95"/><circle cx="978.0" cy="173.6" r="3.95"/><circle cx="1017.6" cy="173.1" r="3.95"/><circle cx="1005.6" cy="172.7" r="3.95"/><circle cx="995.9" cy="172.2" r="3.95"/><circle cx="982.1" cy="171.8" r="3.95"/><circle cx="979.2" cy="171.3" r="3.95"/><circle cx="975.4" cy="170.9" r="3.95"/><circle cx="948.5" cy="170.5" r="3.95"/><circle cx="925.3" cy="170.0" r="3.95"/><circle cx="931.7" cy="169.6" r="3.95"/><circle cx="1025.0" cy="169.1" r="3.95"/><circle cx="934.2" cy="168.7" r="3.95"/><circle cx="978.4" cy="168.2" r="3.95"/><circle cx="1000.1" cy="167.8" r="3.95"/><circle cx="979.8" cy="167.3" r="3.95"/><circle cx="1008.2" cy="166.9" r="3.95"/><circle cx="978.9" cy="166.5" r="3.95"/><circle cx="994.6" cy="166.0" r="3.95"/><circle cx="943.3" cy="165.6" r="3.95"/><circle cx="975.5" cy="165.1" r="3.95"/><circle cx="956.0" cy="164.7" r="3.95"/><circle cx="975.5" cy="164.2" r="3.95"/><circle cx="963.3" cy="163.8" r="3.95"/><circle cx="977.1" cy="163.3" r="3.95"/><circle cx="977.4" cy="162.9" r="3.95"/><circle cx="983.0" cy="162.4" r="3.95"/><circle cx="962.1" cy="162.0" r="3.95"/><circle cx="920.3" cy="161.6" r="3.95"/><circle cx="974.5" cy="161.1" r="3.95"/><circle cx="970.8" cy="160.7" r="3.95"/><circle cx="1013.9" cy="160.2" r="3.95"/><circle cx="979.2" cy="159.8" r="3.95"/><circle cx="956.6" cy="159.3" r="3.95"/><circle cx="1006.6" cy="158.9" r="3.95"/><circle cx="983.3" cy="158.4" r="3.95"/><circle cx="1021.0" cy="158.0" r="3.95"/><circle cx="925.8" cy="157.6" r="3.95"/><circle cx="989.3" cy="157.1" r="3.95"/><circle cx="965.7" cy="156.7" r="3.95"/><circle cx="928.0" cy="156.2" r="3.95"/><circle cx="979.3" cy="155.8" r="3.95"/><circle cx="976.9" cy="155.3" r="3.95"/><circle cx="1026.5" cy="154.9" r="3.95"/><circle cx="965.3" cy="154.4" r="3.95"/><circle cx="979.4" cy="154.0" r="3.95"/><circle cx="920.2" cy="153.5" r="3.95"/><circle cx="973.5" cy="153.1" r="3.95"/><circle cx="972.5" cy="152.7" r="3.95"/><circle cx="969.9" cy="152.2" r="3.95"/><circle cx="1018.5" cy="151.8" r="3.95"/><circle cx="976.3" cy="151.3" r="3.95"/><circle cx="993.5" cy="150.9" r="3.95"/><circle cx="981.2" cy="150.4" r="3.95"/><circle cx="940.8" cy="150.0" r="3.95"/><circle cx="984.1" cy="149.5" r="3.95"/><circle cx="978.1" cy="149.1" r="3.95"/><circle cx="923.5" cy="148.7" r="3.95"/><circle cx="972.7" cy="148.2" r="3.95"/><circle cx="953.1" cy="147.8" r="3.95"/><circle cx="979.6" cy="147.3" r="3.95"/><circle cx="945.2" cy="146.9" r="3.95"/><circle cx="940.9" cy="146.4" r="3.95"/><circle cx="974.3" cy="146.0" r="3.95"/><circle cx="977.7" cy="145.5" r="3.95"/><circle cx="966.8" cy="145.1" r="3.95"/><circle cx="1032.5" cy="144.6" r="3.95"/><circle cx="930.8" cy="144.2" r="3.95"/><circle cx="974.1" cy="143.8" r="3.95"/><circle cx="976.3" cy="143.3" r="3.95"/><circle cx="993.4" cy="142.9" r="3.95"/><circle cx="918.6" cy="142.4" r="3.95"/><circle cx="985.0" cy="142.0" r="3.95"/><circle cx="1023.5" cy="141.5" r="3.95"/><circle cx="934.8" cy="141.1" r="3.95"/><circle cx="987.1" cy="140.6" r="3.95"/><circle cx="966.1" cy="140.2" r="3.95"/><circle cx="992.1" cy="139.8" r="3.95"/><circle cx="981.3" cy="139.3" r="3.95"/><circle cx="937.0" cy="138.9" r="3.95"/><circle cx="912.0" cy="138.4" r="3.95"/><circle cx="984.7" cy="138.0" r="3.95"/><circle cx="978.1" cy="137.5" r="3.95"/><circle cx="926.0" cy="137.1" r="3.95"/><circle cx="977.3" cy="136.6" r="3.95"/><circle cx="1002.8" cy="136.2" r="3.95"/><circle cx="1019.5" cy="135.7" r="3.95"/><circle cx="1063.4" cy="135.3" r="3.95"/><circle cx="941.6" cy="134.9" r="3.95"/><circle cx="991.6" cy="134.4" r="3.95"/><circle cx="1014.8" cy="134.0" r="3.95"/><circle cx="990.3" cy="133.5" r="3.95"/><circle cx="1006.9" cy="133.1" r="3.95"/><circle cx="972.1" cy="132.6" r="3.95"/><circle cx="950.6" cy="132.2" r="3.95"/><circle cx="967.0" cy="131.7" r="3.95"/><circle cx="965.7" cy="131.3" r="3.95"/><circle cx="1021.7" cy="130.9" r="3.95"/><circle cx="1006.5" cy="130.4" r="3.95"/><circle cx="942.5" cy="130.0" r="3.95"/><circle cx="960.5" cy="129.5" r="3.95"/><circle cx="939.2" cy="129.1" r="3.95"/><circle cx="954.3" cy="128.6" r="3.95"/><circle cx="995.3" cy="128.2" r="3.95"/><circle cx="1008.6" cy="127.7" r="3.95"/><circle cx="947.5" cy="127.3" r="3.95"/><circle cx="1011.5" cy="126.8" r="3.95"/><circle cx="1023.2" cy="126.4" r="3.95"/><circle cx="958.0" cy="126.0" r="3.95"/><circle cx="943.2" cy="125.5" r="3.95"/><circle cx="985.8" cy="125.1" r="3.95"/><circle cx="941.4" cy="124.6" r="3.95"/><circle cx="952.8" cy="124.2" r="3.95"/><circle cx="974.9" cy="123.7" r="3.95"/><circle cx="957.4" cy="123.3" r="3.95"/><circle cx="946.4" cy="122.8" r="3.95"/><circle cx="983.0" cy="122.4" r="3.95"/><circle cx="947.1" cy="122.0" r="3.95"/><circle cx="982.2" cy="121.5" r="3.95"/><circle cx="962.0" cy="121.1" r="3.95"/>
</g>
<g fill="#e8391c" stroke="#c0301a" stroke-width="1">
<circle cx="953.1" cy="441.3" r="3.95"/><circle cx="1028.5" cy="440.8" r="3.95"/><circle cx="934.7" cy="440.4" r="3.95"/><circle cx="973.7" cy="439.9" r="3.95"/><circle cx="963.0" cy="439.5" r="3.95"/><circle cx="1037.5" cy="439.0" r="3.95"/><circle cx="1029.4" cy="438.6" r="3.95"/><circle cx="1028.1" cy="438.1" r="3.95"/><circle cx="954.7" cy="437.7" r="3.95"/><circle cx="1051.6" cy="437.2" r="3.95"/><circle cx="1061.3" cy="436.8" r="3.95"/><circle cx="1040.2" cy="436.3" r="3.95"/><circle cx="1056.0" cy="435.8" r="3.95"/><circle cx="1030.8" cy="435.4" r="3.95"/><circle cx="1042.9" cy="434.9" r="3.95"/><circle cx="1061.5" cy="434.5" r="3.95"/><circle cx="1044.7" cy="434.0" r="3.95"/><circle cx="927.3" cy="433.6" r="3.95"/><circle cx="1048.8" cy="433.1" r="3.95"/><circle cx="1026.6" cy="432.7" r="3.95"/><circle cx="1008.5" cy="432.2" r="3.95"/><circle cx="1004.8" cy="431.7" r="3.95"/><circle cx="1001.5" cy="431.3" r="3.95"/><circle cx="1038.7" cy="430.8" r="3.95"/><circle cx="1043.5" cy="430.4" r="3.95"/><circle cx="1045.7" cy="429.9" r="3.95"/><circle cx="1051.5" cy="429.5" r="3.95"/><circle cx="936.6" cy="429.0" r="3.95"/><circle cx="957.6" cy="428.6" r="3.95"/><circle cx="1052.1" cy="428.1" r="3.95"/><circle cx="1035.8" cy="427.7" r="3.95"/><circle cx="1040.0" cy="427.2" r="3.95"/><circle cx="972.5" cy="426.7" r="3.95"/><circle cx="1058.6" cy="426.3" r="3.95"/><circle cx="1049.8" cy="425.8" r="3.95"/><circle cx="1028.2" cy="425.4" r="3.95"/><circle cx="967.8" cy="424.9" r="3.95"/><circle cx="1062.8" cy="424.5" r="3.95"/><circle cx="1035.1" cy="424.0" r="3.95"/><circle cx="1032.5" cy="423.6" r="3.95"/><circle cx="1055.9" cy="423.1" r="3.95"/><circle cx="1056.6" cy="422.6" r="3.95"/><circle cx="1032.7" cy="422.2" r="3.95"/><circle cx="1040.8" cy="421.7" r="3.95"/><circle cx="1059.9" cy="421.3" r="3.95"/><circle cx="1062.0" cy="420.8" r="3.95"/><circle cx="1052.7" cy="420.4" r="3.95"/><circle cx="1025.9" cy="419.9" r="3.95"/><circle cx="979.0" cy="419.5" r="3.95"/><circle cx="1033.3" cy="419.0" r="3.95"/><circle cx="1066.6" cy="418.6" r="3.95"/><circle cx="1031.3" cy="418.1" r="3.95"/><circle cx="1039.1" cy="417.6" r="3.95"/><circle cx="1061.0" cy="417.2" r="3.95"/><circle cx="1053.5" cy="416.7" r="3.95"/><circle cx="1039.5" cy="416.3" r="3.95"/><circle cx="961.8" cy="415.8" r="3.95"/><circle cx="1043.4" cy="415.4" r="3.95"/><circle cx="1063.1" cy="414.9" r="3.95"/><circle cx="1054.6" cy="414.5" r="3.95"/><circle cx="1068.4" cy="414.0" r="3.95"/><circle cx="1059.8" cy="413.5" r="3.95"/><circle cx="1055.1" cy="413.1" r="3.95"/><circle cx="1057.8" cy="412.6" r="3.95"/><circle cx="991.6" cy="412.2" r="3.95"/><circle cx="1031.4" cy="411.7" r="3.95"/><circle cx="1053.6" cy="411.3" r="3.95"/><circle cx="1065.6" cy="410.8" r="3.95"/><circle cx="981.9" cy="410.4" r="3.95"/><circle cx="1026.9" cy="409.9" r="3.95"/><circle cx="1025.4" cy="409.5" r="3.95"/><circle cx="1050.0" cy="409.0" r="3.95"/><circle cx="1035.0" cy="408.5" r="3.95"/><circle cx="1069.4" cy="408.1" r="3.95"/><circle cx="1053.2" cy="407.6" r="3.95"/><circle cx="1048.5" cy="407.2" r="3.95"/><circle cx="997.7" cy="406.7" r="3.95"/><circle cx="1053.0" cy="406.3" r="3.95"/><circle cx="1054.4" cy="405.8" r="3.95"/><circle cx="1050.1" cy="405.4" r="3.95"/><circle cx="1002.0" cy="404.9" r="3.95"/><circle cx="1034.3" cy="404.4" r="3.95"/><circle cx="998.3" cy="404.0" r="3.95"/><circle cx="1049.1" cy="403.5" r="3.95"/><circle cx="1039.8" cy="403.1" r="3.95"/><circle cx="1065.3" cy="402.6" r="3.95"/><circle cx="1058.9" cy="402.2" r="3.95"/><circle cx="1047.7" cy="401.7" r="3.95"/><circle cx="1047.9" cy="401.3" r="3.95"/><circle cx="1053.7" cy="400.8" r="3.95"/><circle cx="1066.1" cy="400.4" r="3.95"/><circle cx="1051.1" cy="399.9" r="3.95"/><circle cx="1025.8" cy="399.4" r="3.95"/><circle cx="1065.3" cy="399.0" r="3.95"/><circle cx="869.2" cy="396.0" r="3.95"/><circle cx="1065.5" cy="395.6" r="3.95"/><circle cx="1030.7" cy="395.1" r="3.95"/><circle cx="1032.7" cy="394.7" r="3.95"/><circle cx="1063.3" cy="394.2" r="3.95"/><circle cx="1050.1" cy="393.8" r="3.95"/><circle cx="978.3" cy="393.3" r="3.95"/><circle cx="1042.7" cy="392.8" r="3.95"/><circle cx="1059.1" cy="392.4" r="3.95"/><circle cx="1016.0" cy="391.9" r="3.95"/><circle cx="988.6" cy="391.5" r="3.95"/><circle cx="1033.2" cy="391.0" r="3.95"/><circle cx="951.7" cy="390.6" r="3.95"/><circle cx="1031.6" cy="390.1" r="3.95"/><circle cx="1030.2" cy="389.7" r="3.95"/><circle cx="974.8" cy="389.2" r="3.95"/><circle cx="970.8" cy="388.8" r="3.95"/><circle cx="1037.3" cy="388.3" r="3.95"/><circle cx="960.0" cy="387.8" r="3.95"/><circle cx="934.2" cy="387.4" r="3.95"/><circle cx="1034.4" cy="386.9" r="3.95"/><circle cx="1060.6" cy="386.5" r="3.95"/><circle cx="1034.2" cy="386.0" r="3.95"/><circle cx="1049.5" cy="385.6" r="3.95"/><circle cx="1030.0" cy="385.1" r="3.95"/><circle cx="969.0" cy="384.7" r="3.95"/><circle cx="1066.0" cy="384.2" r="3.95"/><circle cx="1061.4" cy="383.7" r="3.95"/><circle cx="1068.1" cy="383.3" r="3.95"/><circle cx="1035.0" cy="382.8" r="3.95"/><circle cx="1051.2" cy="382.4" r="3.95"/><circle cx="1060.3" cy="381.9" r="3.95"/><circle cx="1033.2" cy="381.5" r="3.95"/><circle cx="1035.2" cy="381.0" r="3.95"/><circle cx="1027.4" cy="380.6" r="3.95"/><circle cx="991.9" cy="380.1" r="3.95"/><circle cx="1059.2" cy="379.7" r="3.95"/><circle cx="1063.3" cy="379.2" r="3.95"/><circle cx="1063.1" cy="378.7" r="3.95"/><circle cx="1065.9" cy="378.3" r="3.95"/><circle cx="1040.1" cy="377.8" r="3.95"/><circle cx="1068.8" cy="377.4" r="3.95"/><circle cx="1026.0" cy="376.9" r="3.95"/><circle cx="1024.4" cy="376.5" r="3.95"/><circle cx="1032.4" cy="376.0" r="3.95"/><circle cx="1049.6" cy="375.6" r="3.95"/><circle cx="1051.7" cy="375.1" r="3.95"/><circle cx="1034.1" cy="374.6" r="3.95"/><circle cx="1023.2" cy="374.2" r="3.95"/><circle cx="1065.8" cy="373.7" r="3.95"/><circle cx="1032.9" cy="373.3" r="3.95"/><circle cx="1035.6" cy="372.8" r="3.95"/><circle cx="1054.6" cy="372.4" r="3.95"/><circle cx="1027.4" cy="371.9" r="3.95"/><circle cx="1030.0" cy="371.5" r="3.95"/><circle cx="1025.9" cy="371.0" r="3.95"/><circle cx="1045.7" cy="370.6" r="3.95"/><circle cx="1053.4" cy="370.1" r="3.95"/><circle cx="1030.5" cy="369.6" r="3.95"/><circle cx="979.9" cy="369.2" r="3.95"/><circle cx="1067.6" cy="368.7" r="3.95"/><circle cx="1064.7" cy="368.3" r="3.95"/><circle cx="1001.0" cy="367.8" r="3.95"/><circle cx="1064.4" cy="367.4" r="3.95"/><circle cx="1060.9" cy="366.9" r="3.95"/><circle cx="1066.5" cy="366.5" r="3.95"/><circle cx="1067.8" cy="366.0" r="3.95"/><circle cx="1057.4" cy="365.5" r="3.95"/><circle cx="1040.2" cy="365.1" r="3.95"/><circle cx="1038.9" cy="364.6" r="3.95"/><circle cx="1027.1" cy="364.2" r="3.95"/><circle cx="1025.8" cy="363.7" r="3.95"/><circle cx="1053.7" cy="363.3" r="3.95"/><circle cx="988.6" cy="362.8" r="3.95"/><circle cx="1047.8" cy="362.4" r="3.95"/><circle cx="1063.8" cy="361.9" r="3.95"/><circle cx="1064.0" cy="361.5" r="3.95"/><circle cx="1033.9" cy="361.0" r="3.95"/><circle cx="969.9" cy="360.5" r="3.95"/><circle cx="1024.5" cy="360.1" r="3.95"/><circle cx="1041.1" cy="359.6" r="3.95"/><circle cx="1067.8" cy="359.2" r="3.95"/><circle cx="1022.6" cy="358.7" r="3.95"/><circle cx="1024.5" cy="358.3" r="3.95"/><circle cx="1037.3" cy="357.8" r="3.95"/><circle cx="1049.3" cy="357.4" r="3.95"/><circle cx="1052.7" cy="356.9" r="3.95"/><circle cx="1067.1" cy="356.4" r="3.95"/><circle cx="1059.2" cy="356.0" r="3.95"/><circle cx="1035.8" cy="355.5" r="3.95"/><circle cx="1022.8" cy="355.1" r="3.95"/><circle cx="1062.7" cy="354.6" r="3.95"/><circle cx="1040.4" cy="354.2" r="3.95"/><circle cx="1029.4" cy="353.7" r="3.95"/><circle cx="1055.5" cy="353.3" r="3.95"/><circle cx="1029.5" cy="352.8" r="3.95"/><circle cx="979.9" cy="352.4" r="3.95"/><circle cx="1067.5" cy="351.9" r="3.95"/><circle cx="1063.7" cy="351.4" r="3.95"/><circle cx="1068.2" cy="351.0" r="3.95"/><circle cx="996.5" cy="350.5" r="3.95"/><circle cx="1031.7" cy="350.1" r="3.95"/><circle cx="1054.8" cy="349.6" r="3.95"/><circle cx="978.3" cy="349.2" r="3.95"/><circle cx="1064.8" cy="348.7" r="3.95"/><circle cx="1040.8" cy="348.3" r="3.95"/><circle cx="1068.5" cy="347.8" r="3.95"/><circle cx="1041.2" cy="347.3" r="3.95"/><circle cx="1034.3" cy="346.9" r="3.95"/><circle cx="1031.8" cy="346.4" r="3.95"/><circle cx="1030.7" cy="346.0" r="3.95"/><circle cx="1062.2" cy="345.5" r="3.95"/><circle cx="1069.1" cy="345.1" r="3.95"/><circle cx="963.0" cy="344.6" r="3.95"/><circle cx="1026.9" cy="344.2" r="3.95"/><circle cx="1068.9" cy="343.7" r="3.95"/><circle cx="1070.1" cy="343.3" r="3.95"/><circle cx="1045.7" cy="342.8" r="3.95"/><circle cx="1007.6" cy="342.3" r="3.95"/><circle cx="1062.3" cy="341.9" r="3.95"/><circle cx="1019.6" cy="341.4" r="3.95"/><circle cx="1027.2" cy="341.0" r="3.95"/><circle cx="1028.4" cy="340.5" r="3.95"/><circle cx="1039.3" cy="340.1" r="3.95"/><circle cx="1071.0" cy="339.6" r="3.95"/><circle cx="1068.6" cy="339.2" r="3.95"/><circle cx="1051.8" cy="338.7" r="3.95"/><circle cx="1053.0" cy="338.2" r="3.95"/><circle cx="995.4" cy="337.8" r="3.95"/><circle cx="1034.5" cy="337.3" r="3.95"/><circle cx="1064.3" cy="336.9" r="3.95"/><circle cx="1067.2" cy="336.4" r="3.95"/><circle cx="1020.7" cy="336.0" r="3.95"/><circle cx="1022.7" cy="335.5" r="3.95"/><circle cx="1054.7" cy="335.1" r="3.95"/><circle cx="1045.3" cy="334.6" r="3.95"/><circle cx="1031.8" cy="334.2" r="3.95"/><circle cx="1051.4" cy="333.7" r="3.95"/><circle cx="1030.2" cy="333.2" r="3.95"/><circle cx="1007.5" cy="332.8" r="3.95"/><circle cx="1069.7" cy="332.3" r="3.95"/><circle cx="1028.0" cy="331.9" r="3.95"/><circle cx="1046.2" cy="331.4" r="3.95"/><circle cx="1069.4" cy="331.0" r="3.95"/><circle cx="1024.0" cy="330.5" r="3.95"/><circle cx="1031.2" cy="330.1" r="3.95"/><circle cx="1063.5" cy="329.6" r="3.95"/><circle cx="1059.7" cy="329.1" r="3.95"/><circle cx="1048.9" cy="328.7" r="3.95"/><circle cx="1070.1" cy="328.2" r="3.95"/><circle cx="1036.7" cy="327.8" r="3.95"/><circle cx="1040.3" cy="327.3" r="3.95"/><circle cx="1034.9" cy="326.9" r="3.95"/><circle cx="1035.5" cy="326.4" r="3.95"/><circle cx="1037.7" cy="326.0" r="3.95"/><circle cx="994.3" cy="325.5" r="3.95"/><circle cx="1055.6" cy="325.1" r="3.95"/><circle cx="1055.4" cy="324.6" r="3.95"/><circle cx="1045.3" cy="324.1" r="3.95"/><circle cx="1061.0" cy="323.7" r="3.95"/><circle cx="1023.4" cy="323.2" r="3.95"/><circle cx="1067.0" cy="322.8" r="3.95"/><circle cx="1036.3" cy="322.3" r="3.95"/><circle cx="1030.4" cy="321.9" r="3.95"/><circle cx="1048.4" cy="321.4" r="3.95"/><circle cx="1053.5" cy="321.0" r="3.95"/><circle cx="1032.9" cy="320.5" r="3.95"/><circle cx="1064.5" cy="320.0" r="3.95"/><circle cx="1068.7" cy="319.6" r="3.95"/><circle cx="1053.4" cy="319.1" r="3.95"/><circle cx="1062.1" cy="318.7" r="3.95"/><circle cx="1045.0" cy="318.2" r="3.95"/><circle cx="1032.1" cy="317.8" r="3.95"/><circle cx="1064.1" cy="317.3" r="3.95"/><circle cx="1066.1" cy="316.9" r="3.95"/><circle cx="1028.3" cy="316.4" r="3.95"/><circle cx="1059.7" cy="316.0" r="3.95"/><circle cx="1065.8" cy="315.5" r="3.95"/><circle cx="1031.5" cy="315.0" r="3.95"/><circle cx="1062.3" cy="314.6" r="3.95"/><circle cx="1064.0" cy="314.1" r="3.95"/><circle cx="1023.8" cy="313.7" r="3.95"/><circle cx="1063.7" cy="313.2" r="3.95"/><circle cx="986.1" cy="312.8" r="3.95"/>
</g>
<g font-size="12.7" fill="#6b7078" stroke="#6b7078" stroke-width="0.4" text-anchor="end" letter-spacing="0.1"><text x="674.3" y="291.2">20I (Alpha, V1)</text><text x="751.3" y="411.0">21A (Delta)</text><text x="280.0" y="521.0">20A</text><text x="178.0" y="557.4">19A</text><text x="600.5" y="522.2">20C</text><text x="742.0" y="552.2">20H (Beta, V2)</text><text x="895.0" y="557.8">21D (Eta)</text></g>
<rect x="154" y="117" width="276" height="78" fill="#ffffff" fill-opacity="0.93"/>
<rect x="162.5" y="121.5" width="14.5" height="14.5" fill="#fffbb8" stroke="#ebe39c" stroke-width="1"/>
<text x="186.0" y="132.9" font-size="11" fill="#3f3f3f">19A</text>
<rect x="162.5" y="139.8" width="14.5" height="14.5" fill="#d8f2f8" stroke="#bfdfe6" stroke-width="1"/>
<text x="186.0" y="151.2" font-size="11" fill="#3f3f3f">20A</text>
<rect x="162.5" y="158.0" width="14.5" height="14.5" fill="#e1f7cb" stroke="#c9e1b2" stroke-width="1"/>
<text x="186.0" y="169.4" font-size="11" fill="#3f3f3f">20C</text>
<rect x="162.5" y="176.2" width="14.5" height="14.5" fill="#f4d0dc" stroke="#dcb8c5" stroke-width="1"/>
<text x="186.0" y="187.7" font-size="11" fill="#3f3f3f">20D</text>
<rect x="300.5" y="121.5" width="14.5" height="14.5" fill="#5cc3c1" stroke="#4eaeac" stroke-width="1"/>
<text x="324.0" y="132.9" font-size="11" fill="#3f3f3f">20H (Beta, V2)</text>
<rect x="300.5" y="139.8" width="14.5" height="14.5" fill="#f0b64a" stroke="#d9a23e" stroke-width="1"/>
<text x="324.0" y="151.2" font-size="11" fill="#3f3f3f">20I (Alpha, V1)</text>
<rect x="300.5" y="158.0" width="14.5" height="14.5" fill="#e2321a" stroke="#cb2c16" stroke-width="1"/>
<text x="324.0" y="169.4" font-size="11" fill="#3f3f3f">21A (Delta)</text>
<rect x="300.5" y="176.2" width="14.5" height="14.5" fill="#8e48f6" stroke="#7e3fdd" stroke-width="1"/>
<text x="324.0" y="187.7" font-size="11" fill="#3f3f3f">21D (Eta)</text>
<text x="154.5" y="94.2" font-size="15.6" fill="#3c3c3c" textLength="68.5" lengthAdjust="spacingAndGlyphs">Phylogeny</text>
<text x="158.5" y="112.4" font-size="11.8" fill="#555" textLength="28" lengthAdjust="spacingAndGlyphs">Clade</text>
<path d="M194.6 110.6 L199.2 106.2 L203.8 110.6" fill="none" stroke="#2b2b2b" stroke-width="2.2" stroke-linejoin="miter"/>
<rect x="863.5" y="78.5" width="122" height="21" rx="2.5" fill="#fff" stroke="#d4d4d4" stroke-width="1"/>
<rect x="990.5" y="78.5" width="100" height="21" rx="2.5" fill="#fff" stroke="#d4d4d4" stroke-width="1"/>
<text x="869.8" y="93" font-size="11.4" fill="#a9a9a9" textLength="109" lengthAdjust="spacingAndGlyphs">ZOOM TO SELECTED</text>
<text x="997" y="93" font-size="11.4" fill="#a9a9a9" textLength="78.5" lengthAdjust="spacingAndGlyphs">RESET LAYOUT</text>
<g font-size="11.6" fill="#454545"><text x="168.0" y="584.8" text-anchor="middle">2019-Dec</text><text x="256.4" y="584.8" text-anchor="middle">2020-Feb</text><text x="342.0" y="584.8" text-anchor="middle">2020-Apr</text><text x="429.0" y="584.8" text-anchor="middle">2020-Jun</text><text x="515.9" y="584.8" text-anchor="middle">2020-Aug</text><text x="602.9" y="584.8" text-anchor="middle">2020-Oct</text><text x="689.9" y="584.8" text-anchor="middle">2020-Dec</text><text x="778.3" y="584.8" text-anchor="middle">2021-Feb</text><text x="862.5" y="584.8" text-anchor="middle">2021-Apr</text><text x="949.4" y="584.8" text-anchor="middle">2021-Jun</text><text x="1036.4" y="584.8" text-anchor="middle">2021-Aug</text></g>
</g>
</svg>
<p id="cap">Figure 8: Phylogenetic tree of all SARS-CoV-2 sequences identified in Sri Lanka so far<br>(n=1013).</p>
</body>
</html>
